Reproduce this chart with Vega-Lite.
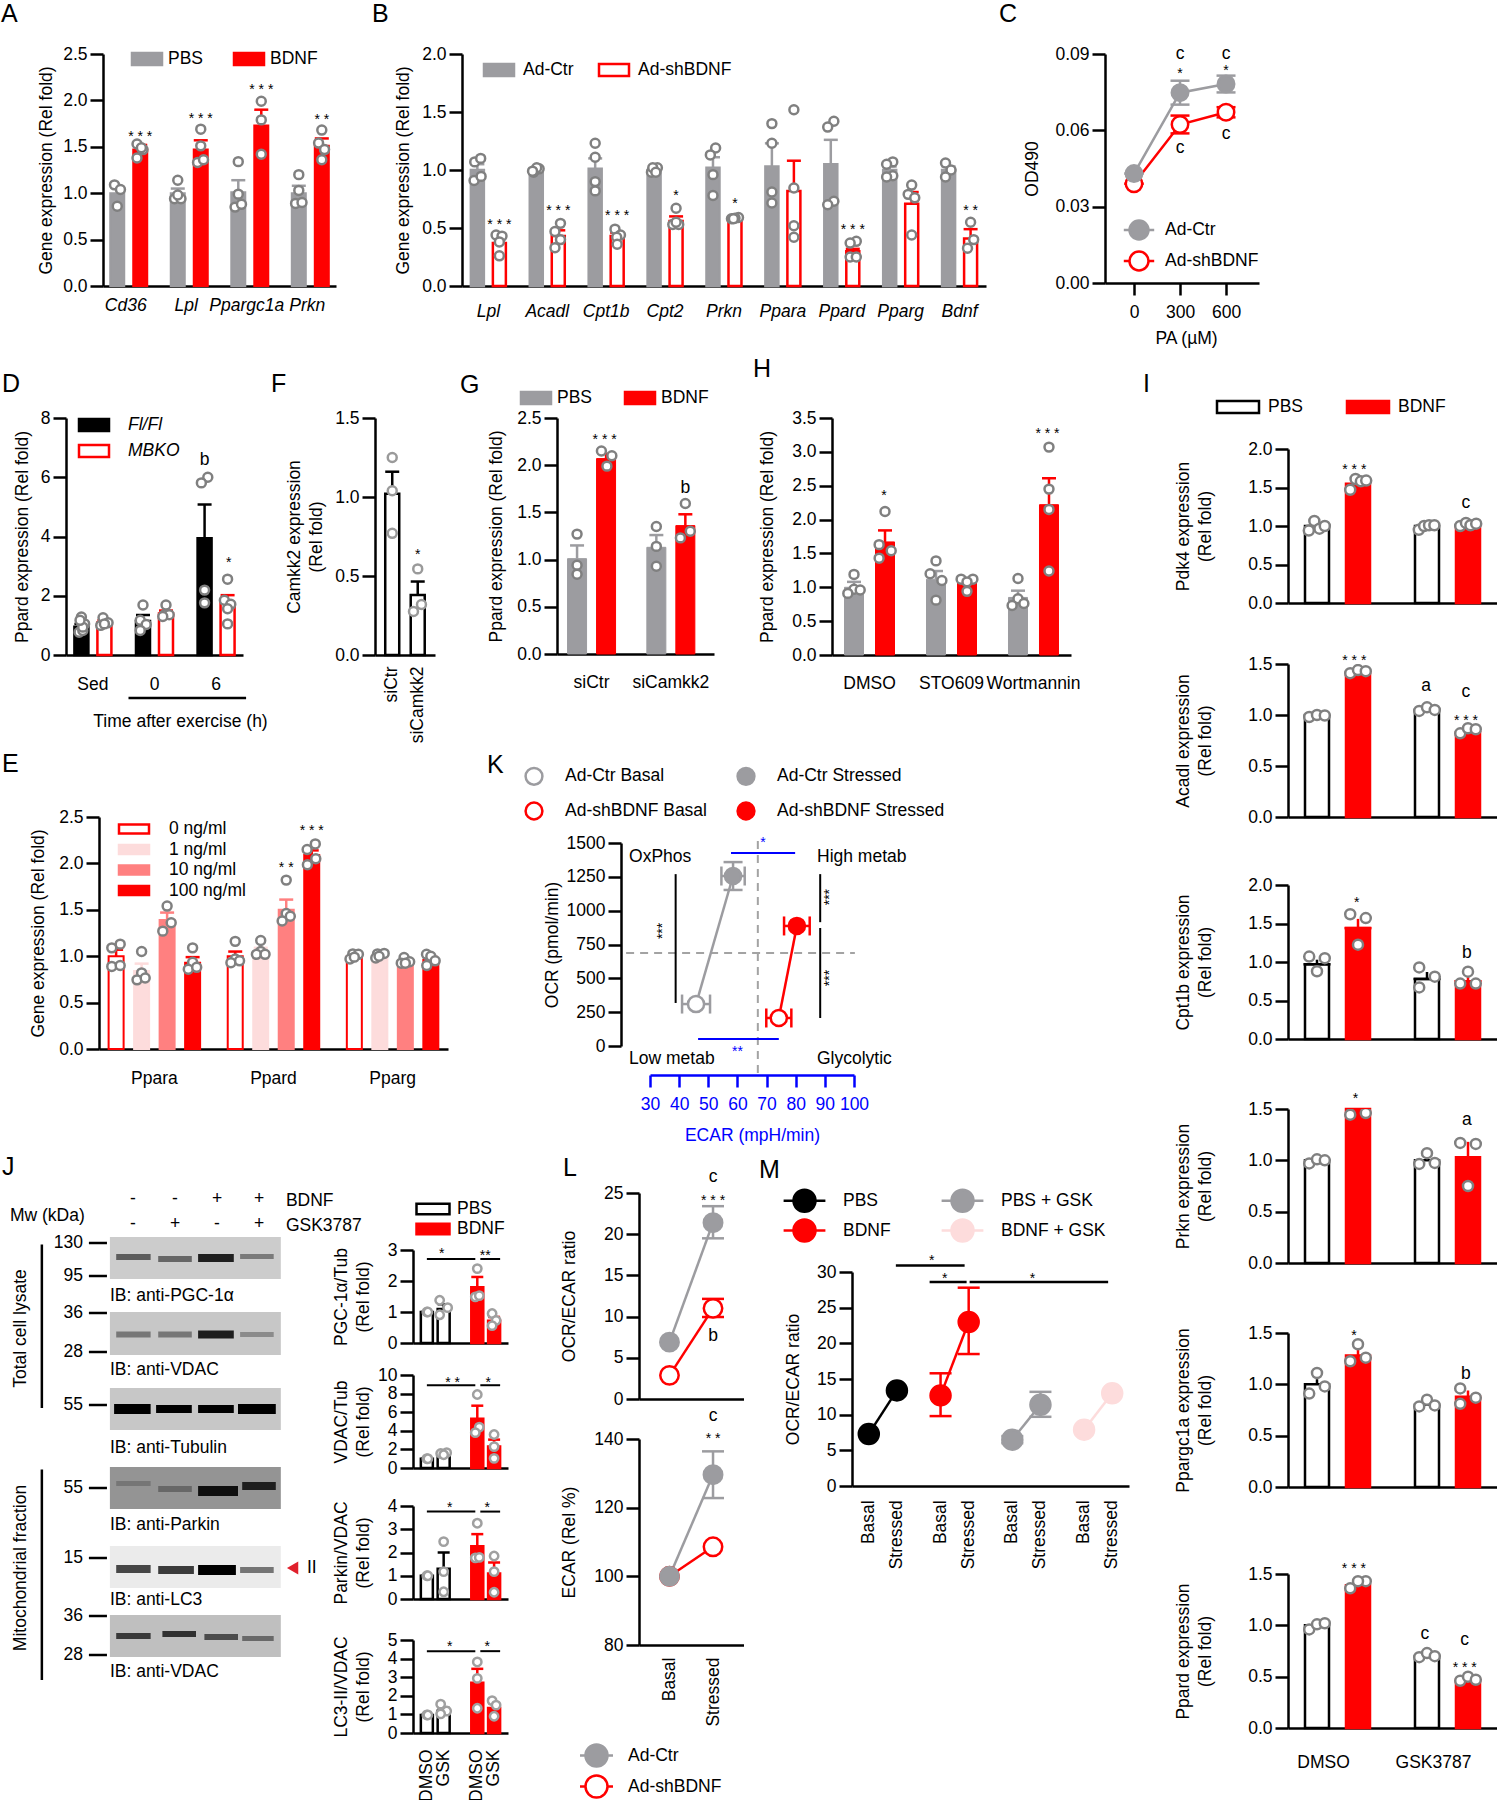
{"$schema":"https://vega.github.io/schema/vega-lite/v6.json","padding":0,"background":"white",
"config":{"font":"Liberation Sans","view":{"stroke":null},"point":{"opacity":1},"text":{"font":"Liberation Sans","fontSize":17.5},
"axis":{"grid":false,"domainColor":"#000","domainWidth":2.5,"tickColor":"#000","tickWidth":2.5,"labelColor":"#000","titleColor":"#000","labelFont":"Liberation Sans","titleFont":"Liberation Sans","labelFontSize":17.5,"titleFontSize":17.5,"titleFontWeight":"normal","titleLineHeight":22},
"axisX":{"ticks":false,"labelAngle":0,"labelOverlap":false,"labelLimit":0,"labelBaseline":"top"},
"axisY":{"tickSize":13,"labelPadding":3,"titleBaseline":"middle","labelOverlap":false},
"legend":{"disable":true,"orient":"none","labelFont":"Liberation Sans","labelFontSize":17.5,"labelColor":"#000","labelLimit":0,"symbolStrokeWidth":2.5,"symbolOpacity":1},
"title":{"font":"Liberation Sans","fontSize":25,"fontWeight":"normal","anchor":"start","frame":"group","offset":0,"color":"#000"}},
"datasets":{
"a_b":[{"g":"Cd36","s":"PBS","off":-0.5,"m":1.0,"hi":1.07},{"g":"Cd36","s":"BDNF","off":0.5,"m":1.47,"hi":1.52},{"g":"Lpl","s":"PBS","off":-0.5,"m":1.0,"hi":1.05},{"g":"Lpl","s":"BDNF","off":0.5,"m":1.47,"hi":1.57},{"g":"Ppargc1a","s":"PBS","off":-0.5,"m":1.01,"hi":1.14},{"g":"Ppargc1a","s":"BDNF","off":0.5,"m":1.73,"hi":1.9},{"g":"Prkn","s":"PBS","off":-0.5,"m":1.0,"hi":1.08},{"g":"Prkn","s":"BDNF","off":0.5,"m":1.51,"hi":1.59}],
"a_d":[{"g":"Cd36","off":-0.62,"v":1.09},{"g":"Cd36","off":-0.36,"v":1.04},{"g":"Cd36","off":-0.5,"v":0.86},{"g":"Cd36","off":0.36,"v":1.53},{"g":"Cd36","off":0.62,"v":1.47},{"g":"Cd36","off":0.55,"v":1.49},{"g":"Cd36","off":0.36,"v":1.38},{"g":"Lpl","off":-0.5,"v":1.14},{"g":"Lpl","off":-0.64,"v":0.94},{"g":"Lpl","off":-0.36,"v":0.94},{"g":"Lpl","off":-0.5,"v":0.98},{"g":"Lpl","off":0.5,"v":1.69},{"g":"Lpl","off":0.5,"v":1.51},{"g":"Lpl","off":0.36,"v":1.33},{"g":"Lpl","off":0.62,"v":1.36},{"g":"Ppargc1a","off":-0.5,"v":1.34},{"g":"Ppargc1a","off":-0.5,"v":0.99},{"g":"Ppargc1a","off":-0.64,"v":0.85},{"g":"Ppargc1a","off":-0.36,"v":0.88},{"g":"Ppargc1a","off":0.5,"v":1.99},{"g":"Ppargc1a","off":0.5,"v":1.79},{"g":"Ppargc1a","off":0.5,"v":1.42},{"g":"Prkn","off":-0.5,"v":1.2},{"g":"Prkn","off":-0.5,"v":1.03},{"g":"Prkn","off":-0.64,"v":0.89},{"g":"Prkn","off":-0.36,"v":0.9},{"g":"Prkn","off":0.5,"v":1.68},{"g":"Prkn","off":0.36,"v":1.54},{"g":"Prkn","off":0.62,"v":1.47},{"g":"Prkn","off":0.5,"v":1.36}],
"a_s":[{"g":"Cd36","off":0.5,"y":1.64,"t":"* * *"},{"g":"Lpl","off":0.5,"y":1.83,"t":"* * *"},{"g":"Ppargc1a","off":0.5,"y":2.14,"t":"* * *"},{"g":"Prkn","off":0.5,"y":1.82,"t":"* *"}],
"b_b":[{"g":"Lpl","s":"Ad-Ctr","off":-0.5,"m":1.0,"hi":1.05},{"g":"Lpl","s":"Ad-shBDNF","off":0.5,"m":0.37,"hi":0.42},{"g":"Acadl","s":"Ad-Ctr","off":-0.5,"m":1.0,"hi":1.01},{"g":"Acadl","s":"Ad-shBDNF","off":0.5,"m":0.43,"hi":0.48},{"g":"Cpt1b","s":"Ad-Ctr","off":-0.5,"m":1.01,"hi":1.1},{"g":"Cpt1b","s":"Ad-shBDNF","off":0.5,"m":0.43,"hi":0.46},{"g":"Cpt2","s":"Ad-Ctr","off":-0.5,"m":1.0,"hi":1.01},{"g":"Cpt2","s":"Ad-shBDNF","off":0.5,"m":0.56,"hi":0.6},{"g":"Prkn","s":"Ad-Ctr","off":-0.5,"m":1.02,"hi":1.11},{"g":"Prkn","s":"Ad-shBDNF","off":0.5,"m":0.58,"hi":0.59},{"g":"Ppara","s":"Ad-Ctr","off":-0.5,"m":1.03,"hi":1.23},{"g":"Ppara","s":"Ad-shBDNF","off":0.5,"m":0.82,"hi":1.08},{"g":"Ppard","s":"Ad-Ctr","off":-0.5,"m":1.05,"hi":1.26},{"g":"Ppard","s":"Ad-shBDNF","off":0.5,"m":0.3,"hi":0.32},{"g":"Pparg","s":"Ad-Ctr","off":-0.5,"m":1.0,"hi":1.03},{"g":"Pparg","s":"Ad-shBDNF","off":0.5,"m":0.71,"hi":0.81},{"g":"Bdnf","s":"Ad-Ctr","off":-0.5,"m":1.0,"hi":1.03},{"g":"Bdnf","s":"Ad-shBDNF","off":0.5,"m":0.41,"hi":0.49}],
"b_d":[{"g":"Lpl","off":-0.65,"v":0.91},{"g":"Lpl","off":-0.33,"v":0.945},{"g":"Lpl","off":-0.62,"v":1.07},{"g":"Lpl","off":-0.35,"v":1.1},{"g":"Lpl","off":0.35,"v":0.44},{"g":"Lpl","off":0.62,"v":0.43},{"g":"Lpl","off":0.5,"v":0.38},{"g":"Lpl","off":0.5,"v":0.26},{"g":"Acadl","off":-0.62,"v":0.98},{"g":"Acadl","off":-0.37,"v":1.01},{"g":"Acadl","off":-0.48,"v":1.02},{"g":"Acadl","off":-0.67,"v":0.99},{"g":"Acadl","off":0.6,"v":0.54},{"g":"Acadl","off":0.35,"v":0.47},{"g":"Acadl","off":0.6,"v":0.4},{"g":"Acadl","off":0.35,"v":0.33},{"g":"Cpt1b","off":-0.5,"v":1.23},{"g":"Cpt1b","off":-0.5,"v":1.11},{"g":"Cpt1b","off":-0.5,"v":0.9},{"g":"Cpt1b","off":-0.5,"v":0.82},{"g":"Cpt1b","off":0.4,"v":0.49},{"g":"Cpt1b","off":0.65,"v":0.44},{"g":"Cpt1b","off":0.48,"v":0.42},{"g":"Cpt1b","off":0.5,"v":0.36},{"g":"Cpt2","off":-0.62,"v":0.98},{"g":"Cpt2","off":-0.35,"v":1.02},{"g":"Cpt2","off":-0.56,"v":1.02},{"g":"Cpt2","off":-0.42,"v":0.98},{"g":"Cpt2","off":0.5,"v":0.67},{"g":"Cpt2","off":0.35,"v":0.53},{"g":"Cpt2","off":0.62,"v":0.53},{"g":"Cpt2","off":0.5,"v":0.55},{"g":"Prkn","off":-0.38,"v":1.19},{"g":"Prkn","off":-0.62,"v":1.13},{"g":"Prkn","off":-0.5,"v":0.96},{"g":"Prkn","off":-0.5,"v":0.78},{"g":"Prkn","off":0.34,"v":0.58},{"g":"Prkn","off":0.66,"v":0.59},{"g":"Prkn","off":0.5,"v":0.585},{"g":"Prkn","off":0.43,"v":0.58},{"g":"Ppara","off":-0.5,"v":1.4},{"g":"Ppara","off":-0.5,"v":1.23},{"g":"Ppara","off":-0.5,"v":0.81},{"g":"Ppara","off":-0.5,"v":0.715},{"g":"Ppara","off":0.5,"v":1.52},{"g":"Ppara","off":0.5,"v":0.845},{"g":"Ppara","off":0.5,"v":0.52},{"g":"Ppara","off":0.5,"v":0.42},{"g":"Ppard","off":-0.36,"v":1.42},{"g":"Ppard","off":-0.64,"v":1.37},{"g":"Ppard","off":-0.36,"v":0.73},{"g":"Ppard","off":-0.64,"v":0.7},{"g":"Ppard","off":0.66,"v":0.385},{"g":"Ppard","off":0.38,"v":0.37},{"g":"Ppard","off":0.38,"v":0.25},{"g":"Ppard","off":0.66,"v":0.25},{"g":"Pparg","off":-0.36,"v":1.07},{"g":"Pparg","off":-0.64,"v":1.05},{"g":"Pparg","off":-0.36,"v":0.95},{"g":"Pparg","off":-0.64,"v":0.94},{"g":"Pparg","off":0.5,"v":0.87},{"g":"Pparg","off":0.34,"v":0.79},{"g":"Pparg","off":0.64,"v":0.76},{"g":"Pparg","off":0.5,"v":0.44},{"g":"Bdnf","off":-0.64,"v":1.06},{"g":"Bdnf","off":-0.39,"v":1.0},{"g":"Bdnf","off":-0.64,"v":0.94},{"g":"Bdnf","off":0.5,"v":0.55},{"g":"Bdnf","off":0.64,"v":0.4},{"g":"Bdnf","off":0.36,"v":0.325}],
"b_s":[{"g":"Lpl","off":0.5,"y":0.55,"t":"* * *"},{"g":"Acadl","off":0.5,"y":0.67,"t":"* * *"},{"g":"Cpt1b","off":0.5,"y":0.63,"t":"* * *"},{"g":"Cpt2","off":0.5,"y":0.8,"t":"*"},{"g":"Prkn","off":0.5,"y":0.73,"t":"*"},{"g":"Ppard","off":0.5,"y":0.51,"t":"* * *"},{"g":"Bdnf","off":0.5,"y":0.67,"t":"* *"}],
"c_p":[{"pa":0,"s":"Ad-shBDNF","m":0.039,"lo":0.039,"hi":0.039},{"pa":300,"s":"Ad-shBDNF","m":0.0623,"lo":0.0588,"hi":0.0658},{"pa":600,"s":"Ad-shBDNF","m":0.0671,"lo":0.0651,"hi":0.0691},{"pa":0,"s":"Ad-Ctr","m":0.043,"lo":0.043,"hi":0.043},{"pa":300,"s":"Ad-Ctr","m":0.0748,"lo":0.0701,"hi":0.0795},{"pa":600,"s":"Ad-Ctr","m":0.0782,"lo":0.0749,"hi":0.0815}],
"c_t":[{"pa":300,"y":0.0901,"t":"c"},{"pa":600,"y":0.0901,"t":"c"},{"pa":300,"y":0.0532,"t":"c"},{"pa":600,"y":0.0584,"t":"c"}],
"c_s":[{"pa":300,"y":0.0832,"t":"*"},{"pa":600,"y":0.0845,"t":"*"}],
"d_b":[{"g":"Sed","s":"Fl/Fl","off":-0.5,"m":0.95,"hi":1.05},{"g":"Sed","s":"MBKO","off":0.5,"m":1.1,"hi":1.17},{"g":"0","s":"Fl/Fl","off":-0.5,"m":1.15,"hi":1.35},{"g":"0","s":"MBKO","off":0.5,"m":1.4,"hi":1.5},{"g":"6","s":"Fl/Fl","off":-0.5,"m":3.94,"hi":5.08},{"g":"6","s":"MBKO","off":0.5,"m":1.75,"hi":2.02}],
"d_d":[{"g":"Sed","off":-0.5,"v":1.28},{"g":"Sed","off":-0.36,"v":1.05},{"g":"Sed","off":-0.6,"v":0.77},{"g":"Sed","off":-0.44,"v":0.83},{"g":"Sed","off":-0.44,"v":0.94},{"g":"Sed","off":-0.56,"v":1.17},{"g":"Sed","off":0.44,"v":1.26},{"g":"Sed","off":0.66,"v":1.09},{"g":"Sed","off":0.34,"v":1.0},{"g":"Sed","off":0.5,"v":1.05},{"g":"0","off":-0.5,"v":1.69},{"g":"0","off":-0.62,"v":1.17},{"g":"0","off":-0.36,"v":1.03},{"g":"0","off":-0.62,"v":0.83},{"g":"0","off":0.5,"v":1.69},{"g":"0","off":0.44,"v":1.36},{"g":"0","off":0.64,"v":1.36},{"g":"0","off":0.36,"v":1.3},{"g":"6","off":-0.36,"v":6.0},{"g":"6","off":-0.64,"v":5.81},{"g":"6","off":-0.5,"v":2.19},{"g":"6","off":-0.5,"v":1.76},{"g":"6","off":0.5,"v":2.56},{"g":"6","off":0.36,"v":1.85},{"g":"6","off":0.64,"v":1.71},{"g":"6","off":0.5,"v":1.56},{"g":"6","off":0.5,"v":1.05}],
"f_b":[{"g":"siCtr","off":0,"m":1.02,"hi":1.16},{"g":"siCamkk2","off":0,"m":0.38,"hi":0.465}],
"f_d":[{"g":"siCtr","off":0,"v":1.25},{"g":"siCtr","off":0,"v":1.04},{"g":"siCtr","off":0,"v":0.77},{"g":"siCamkk2","off":0,"v":0.545},{"g":"siCamkk2","off":0.15,"v":0.32},{"g":"siCamkk2","off":-0.17,"v":0.275}],
"g_b":[{"g":"siCtr","s":"PBS","off":-0.5,"m":1.01,"hi":1.15},{"g":"siCtr","s":"BDNF","off":0.5,"m":2.07,"hi":2.12},{"g":"siCamkk2","s":"PBS","off":-0.5,"m":1.13,"hi":1.26},{"g":"siCamkk2","s":"BDNF","off":0.5,"m":1.36,"hi":1.48}],
"g_d":[{"g":"siCtr","off":-0.5,"v":1.27},{"g":"siCtr","off":-0.5,"v":0.94},{"g":"siCtr","off":-0.5,"v":0.845},{"g":"siCtr","off":0.34,"v":2.15},{"g":"siCtr","off":0.7,"v":2.1},{"g":"siCtr","off":0.53,"v":1.99},{"g":"siCamkk2","off":-0.5,"v":1.35},{"g":"siCamkk2","off":-0.5,"v":1.14},{"g":"siCamkk2","off":-0.5,"v":0.93},{"g":"siCamkk2","off":0.5,"v":1.595},{"g":"siCamkk2","off":0.67,"v":1.3},{"g":"siCamkk2","off":0.33,"v":1.23}],
"h_b":[{"g":"DMSO","s":"PBS","off":-0.5,"m":1.0,"hi":1.08},{"g":"DMSO","s":"BDNF","off":0.5,"m":1.67,"hi":1.84},{"g":"STO609","s":"PBS","off":-0.5,"m":1.12,"hi":1.24},{"g":"STO609","s":"BDNF","off":0.5,"m":1.07,"hi":1.1},{"g":"Wortmannin","s":"PBS","off":-0.5,"m":0.85,"hi":0.95},{"g":"Wortmannin","s":"BDNF","off":0.5,"m":2.22,"hi":2.61}],
"h_d":[{"g":"DMSO","off":-0.5,"v":1.19},{"g":"DMSO","off":-0.5,"v":0.97},{"g":"DMSO","off":-0.7,"v":0.91},{"g":"DMSO","off":-0.3,"v":0.96},{"g":"DMSO","off":0.5,"v":2.12},{"g":"DMSO","off":0.31,"v":1.63},{"g":"DMSO","off":0.7,"v":1.54},{"g":"DMSO","off":0.31,"v":1.43},{"g":"STO609","off":-0.5,"v":1.39},{"g":"STO609","off":-0.69,"v":1.2},{"g":"STO609","off":-0.31,"v":1.1},{"g":"STO609","off":-0.5,"v":0.81},{"g":"STO609","off":0.31,"v":1.12},{"g":"STO609","off":0.69,"v":1.12},{"g":"STO609","off":0.5,"v":1.08},{"g":"STO609","off":0.5,"v":0.94},{"g":"Wortmannin","off":-0.5,"v":1.13},{"g":"Wortmannin","off":-0.5,"v":0.83},{"g":"Wortmannin","off":-0.69,"v":0.73},{"g":"Wortmannin","off":-0.31,"v":0.76},{"g":"Wortmannin","off":0.5,"v":3.07},{"g":"Wortmannin","off":0.5,"v":2.45},{"g":"Wortmannin","off":0.5,"v":2.15},{"g":"Wortmannin","off":0.5,"v":1.24}],
"e_b":[{"g":"Ppara","s":"0 ng/ml","off":-1.5,"m":1.0,"hi":1.07},{"g":"Ppara","s":"1 ng/ml","off":-0.5,"m":0.84,"hi":0.92},{"g":"Ppara","s":"10 ng/ml","off":0.5,"m":1.39,"hi":1.47},{"g":"Ppara","s":"100 ng/ml","off":1.5,"m":0.93,"hi":0.99},{"g":"Ppard","s":"0 ng/ml","off":-1.5,"m":1.0,"hi":1.05},{"g":"Ppard","s":"1 ng/ml","off":-0.5,"m":1.05,"hi":1.09},{"g":"Ppard","s":"10 ng/ml","off":0.5,"m":1.5,"hi":1.61},{"g":"Ppard","s":"100 ng/ml","off":1.5,"m":2.09,"hi":2.14},{"g":"Pparg","s":"0 ng/ml","off":-1.5,"m":1.0,"hi":1.01},{"g":"Pparg","s":"1 ng/ml","off":-0.5,"m":1.01,"hi":1.02},{"g":"Pparg","s":"10 ng/ml","off":0.5,"m":0.93,"hi":0.95},{"g":"Pparg","s":"100 ng/ml","off":1.5,"m":0.96,"hi":0.99}],
"e_d":[{"g":"Ppara","off":-1.67,"v":1.09},{"g":"Ppara","off":-1.34,"v":1.13},{"g":"Ppara","off":-1.67,"v":0.89},{"g":"Ppara","off":-1.34,"v":0.9},{"g":"Ppara","off":-0.5,"v":1.05},{"g":"Ppara","off":-0.5,"v":0.82},{"g":"Ppara","off":-0.68,"v":0.745},{"g":"Ppara","off":-0.36,"v":0.765},{"g":"Ppara","off":0.5,"v":1.54},{"g":"Ppara","off":0.66,"v":1.36},{"g":"Ppara","off":0.33,"v":1.27},{"g":"Ppara","off":1.5,"v":1.09},{"g":"Ppara","off":1.5,"v":0.935},{"g":"Ppara","off":1.33,"v":0.86},{"g":"Ppara","off":1.66,"v":0.88},{"g":"Ppard","off":-1.5,"v":1.16},{"g":"Ppard","off":-1.5,"v":0.97},{"g":"Ppard","off":-1.67,"v":0.93},{"g":"Ppard","off":-1.33,"v":0.95},{"g":"Ppard","off":-0.5,"v":1.17},{"g":"Ppard","off":-0.5,"v":1.05},{"g":"Ppard","off":-0.67,"v":1.02},{"g":"Ppard","off":-0.33,"v":1.02},{"g":"Ppard","off":0.5,"v":1.82},{"g":"Ppard","off":0.5,"v":1.46},{"g":"Ppard","off":0.34,"v":1.38},{"g":"Ppard","off":0.66,"v":1.43},{"g":"Ppard","off":1.64,"v":2.21},{"g":"Ppard","off":1.32,"v":2.15},{"g":"Ppard","off":1.66,"v":2.05},{"g":"Ppard","off":1.33,"v":1.985},{"g":"Pparg","off":-1.56,"v":1.025},{"g":"Pparg","off":-1.34,"v":1.02},{"g":"Pparg","off":-1.67,"v":0.97},{"g":"Pparg","off":-1.5,"v":0.99},{"g":"Pparg","off":-0.59,"v":1.025},{"g":"Pparg","off":-0.33,"v":1.03},{"g":"Pparg","off":-0.66,"v":0.98},{"g":"Pparg","off":-0.53,"v":1.0},{"g":"Pparg","off":0.45,"v":0.985},{"g":"Pparg","off":0.67,"v":0.94},{"g":"Pparg","off":0.34,"v":0.925},{"g":"Pparg","off":0.5,"v":0.925},{"g":"Pparg","off":1.33,"v":1.02},{"g":"Pparg","off":1.5,"v":1.0},{"g":"Pparg","off":1.67,"v":0.95},{"g":"Pparg","off":1.34,"v":0.9}],
"k_p":[{"sample":"Ad-Ctr Basal","group":"Ad-Ctr","ecar":45.8,"ocr":310,"xlo":41,"xhi":50.6},{"sample":"Ad-Ctr Stressed","group":"Ad-Ctr","ecar":58.5,"ocr":1256,"xlo":54.5,"xhi":62.5},{"sample":"Ad-shBDNF Basal","group":"Ad-shBDNF","ecar":74.2,"ocr":207,"xlo":69.9,"xhi":78.5},{"sample":"Ad-shBDNF Stressed","group":"Ad-shBDNF","ecar":80.4,"ocr":887,"xlo":76,"xhi":84.8}],
"k_txt":[{"x":22.8,"y":1393,"t":"OxPhos"},{"x":87.3,"y":1393,"t":"High metab"},{"x":22.8,"y":-96,"t":"Low metab"},{"x":87.3,"y":-96,"t":"Glycolytic"}],
"i1_b":[{"g":"DMSO","s":"PBS","off":-0.5,"m":1.0,"hi":1.0},{"g":"DMSO","s":"BDNF","off":0.5,"m":1.55,"hi":1.55},{"g":"GSK3787","s":"PBS","off":-0.5,"m":1.0,"hi":1.0},{"g":"GSK3787","s":"BDNF","off":0.5,"m":1.0,"hi":1.0}],
"i1_d":[{"g":"DMSO","off":-0.7,"v":0.94},{"g":"DMSO","off":-0.565,"v":1.065},{"g":"DMSO","off":-0.44,"v":0.965},{"g":"DMSO","off":-0.31,"v":1.0},{"g":"DMSO","off":0.31,"v":1.47},{"g":"DMSO","off":0.44,"v":1.61},{"g":"DMSO","off":0.57,"v":1.58},{"g":"DMSO","off":0.7,"v":1.59},{"g":"GSK3787","off":-0.7,"v":0.95},{"g":"GSK3787","off":-0.57,"v":1.0},{"g":"GSK3787","off":-0.45,"v":1.01},{"g":"GSK3787","off":-0.32,"v":1.01},{"g":"GSK3787","off":0.31,"v":1.0},{"g":"GSK3787","off":0.45,"v":1.04},{"g":"GSK3787","off":0.56,"v":1.01},{"g":"GSK3787","off":0.7,"v":1.03}],
"i2_b":[{"g":"DMSO","s":"PBS","off":-0.5,"m":1.0,"hi":1.0},{"g":"DMSO","s":"BDNF","off":0.5,"m":1.42,"hi":1.42},{"g":"GSK3787","s":"PBS","off":-0.5,"m":1.05,"hi":1.05},{"g":"GSK3787","s":"BDNF","off":0.5,"m":0.83,"hi":0.83}],
"i2_d":[{"g":"DMSO","off":-0.69,"v":0.98},{"g":"DMSO","off":-0.5,"v":1.0},{"g":"DMSO","off":-0.31,"v":0.995},{"g":"DMSO","off":0.31,"v":1.41},{"g":"DMSO","off":0.5,"v":1.44},{"g":"DMSO","off":0.69,"v":1.43},{"g":"GSK3787","off":-0.69,"v":1.04},{"g":"GSK3787","off":-0.5,"v":1.075},{"g":"GSK3787","off":-0.31,"v":1.05},{"g":"GSK3787","off":0.31,"v":0.82},{"g":"GSK3787","off":0.5,"v":0.87},{"g":"GSK3787","off":0.69,"v":0.86}],
"i3_b":[{"g":"DMSO","s":"PBS","off":-0.5,"m":0.97,"hi":1.03},{"g":"DMSO","s":"BDNF","off":0.5,"m":1.44,"hi":1.56},{"g":"GSK3787","s":"PBS","off":-0.5,"m":0.78,"hi":0.87},{"g":"GSK3787","s":"BDNF","off":0.5,"m":0.75,"hi":0.83}],
"i3_d":[{"g":"DMSO","off":-0.69,"v":1.07},{"g":"DMSO","off":-0.31,"v":1.05},{"g":"DMSO","off":-0.5,"v":0.88},{"g":"DMSO","off":0.31,"v":1.62},{"g":"DMSO","off":0.69,"v":1.57},{"g":"DMSO","off":0.5,"v":1.225},{"g":"GSK3787","off":-0.69,"v":0.93},{"g":"GSK3787","off":-0.31,"v":0.81},{"g":"GSK3787","off":-0.69,"v":0.67},{"g":"GSK3787","off":0.5,"v":0.875},{"g":"GSK3787","off":0.31,"v":0.72},{"g":"GSK3787","off":0.69,"v":0.72}],
"i4_b":[{"g":"DMSO","s":"PBS","off":-0.5,"m":1.0,"hi":1.0},{"g":"DMSO","s":"BDNF","off":0.5,"m":1.5,"hi":1.5},{"g":"GSK3787","s":"PBS","off":-0.5,"m":1.0,"hi":1.0},{"g":"GSK3787","s":"BDNF","off":0.5,"m":1.03,"hi":1.18}],
"i4_d":[{"g":"DMSO","off":-0.69,"v":0.97},{"g":"DMSO","off":-0.5,"v":1.01},{"g":"DMSO","off":-0.31,"v":1.0},{"g":"DMSO","off":0.31,"v":1.445},{"g":"DMSO","off":0.69,"v":1.46},{"g":"GSK3787","off":-0.5,"v":1.07},{"g":"GSK3787","off":-0.69,"v":0.965},{"g":"GSK3787","off":-0.31,"v":0.975},{"g":"GSK3787","off":0.31,"v":1.17},{"g":"GSK3787","off":0.69,"v":1.16},{"g":"GSK3787","off":0.5,"v":0.75}],
"i5_b":[{"g":"DMSO","s":"PBS","off":-0.5,"m":1.0,"hi":1.05},{"g":"DMSO","s":"BDNF","off":0.5,"m":1.28,"hi":1.34},{"g":"GSK3787","s":"PBS","off":-0.5,"m":0.8,"hi":0.8},{"g":"GSK3787","s":"BDNF","off":0.5,"m":0.88,"hi":0.94}],
"i5_d":[{"g":"DMSO","off":-0.5,"v":1.11},{"g":"DMSO","off":-0.31,"v":0.98},{"g":"DMSO","off":-0.69,"v":0.91},{"g":"DMSO","off":0.5,"v":1.39},{"g":"DMSO","off":0.69,"v":1.26},{"g":"DMSO","off":0.31,"v":1.225},{"g":"GSK3787","off":-0.5,"v":0.85},{"g":"GSK3787","off":-0.69,"v":0.785},{"g":"GSK3787","off":-0.31,"v":0.795},{"g":"GSK3787","off":0.31,"v":0.96},{"g":"GSK3787","off":0.69,"v":0.87},{"g":"GSK3787","off":0.31,"v":0.81}],
"i6_b":[{"g":"DMSO","s":"PBS","off":-0.5,"m":1.0,"hi":1.0},{"g":"DMSO","s":"BDNF","off":0.5,"m":1.39,"hi":1.42},{"g":"GSK3787","s":"PBS","off":-0.5,"m":0.7,"hi":0.7},{"g":"GSK3787","s":"BDNF","off":0.5,"m":0.47,"hi":0.47}],
"i6_d":[{"g":"DMSO","off":-0.69,"v":0.96},{"g":"DMSO","off":-0.5,"v":1.01},{"g":"DMSO","off":-0.31,"v":1.02},{"g":"DMSO","off":0.31,"v":1.36},{"g":"DMSO","off":0.69,"v":1.43},{"g":"DMSO","off":0.5,"v":1.43},{"g":"GSK3787","off":-0.69,"v":0.69},{"g":"GSK3787","off":-0.5,"v":0.73},{"g":"GSK3787","off":-0.31,"v":0.7},{"g":"GSK3787","off":0.31,"v":0.46},{"g":"GSK3787","off":0.5,"v":0.5},{"g":"GSK3787","off":0.69,"v":0.47}],
"j1_b":[{"c":"PBS DMSO","s":"PBS","off":0,"m":1.0,"hi":1.0},{"c":"PBS GSK","s":"PBS","off":0,"m":1.1,"hi":1.25},{"c":"BDNF DMSO","s":"BDNF","off":0,"m":1.8,"hi":2.13},{"c":"BDNF GSK","s":"BDNF","off":0,"m":0.72,"hi":0.84}],
"j1_d":[{"c":"PBS DMSO","off":0,"v":1.0},{"c":"PBS DMSO","off":0.1,"v":1.0},{"c":"PBS GSK","off":-0.4,"v":1.38},{"c":"PBS GSK","off":0.4,"v":1.14},{"c":"PBS GSK","off":-0.4,"v":0.91},{"c":"BDNF DMSO","off":0,"v":2.4},{"c":"BDNF DMSO","off":-0.2,"v":1.49},{"c":"BDNF DMSO","off":0.2,"v":1.53},{"c":"BDNF GSK","off":-0.2,"v":0.95},{"c":"BDNF GSK","off":0.2,"v":0.73},{"c":"BDNF GSK","off":-0.2,"v":0.56}],
"j1_r":[{"c":"PBS DMSO","c2":"BDNF DMSO","y":2.71}],"j1_q":[{"c":"BDNF DMSO","c2":"BDNF GSK","y":2.71}],"j1_s":[{"c":"PBS GSK","off":-0.2,"y":2.96,"t":"*"},{"c":"BDNF DMSO","off":0.8,"y":2.9,"t":"**"}],
"j2_b":[{"c":"PBS DMSO","s":"PBS","off":0,"m":1.0,"hi":1.0},{"c":"PBS GSK","s":"PBS","off":0,"m":1.5,"hi":1.6},{"c":"BDNF DMSO","s":"BDNF","off":0,"m":5.3,"hi":6.7},{"c":"BDNF GSK","s":"BDNF","off":0,"m":2.3,"hi":3.05}],
"j2_d":[{"c":"PBS DMSO","off":0,"v":1.0},{"c":"PBS DMSO","off":0.1,"v":1.0},{"c":"PBS GSK","off":-0.3,"v":1.56},{"c":"PBS GSK","off":0.3,"v":1.65},{"c":"PBS GSK","off":0,"v":1.43},{"c":"BDNF DMSO","off":0,"v":7.9},{"c":"BDNF DMSO","off":0.2,"v":4.4},{"c":"BDNF DMSO","off":-0.2,"v":3.8},{"c":"BDNF GSK","off":0,"v":3.6},{"c":"BDNF GSK","off":0,"v":2.3},{"c":"BDNF GSK","off":0,"v":1.04}],
"j2_r":[{"c":"PBS DMSO","c2":"BDNF DMSO","y":8.9}],"j2_q":[{"c":"BDNF DMSO","c2":"BDNF GSK","y":8.9}],"j2_s":[{"c":"PBS GSK","off":0.9,"y":9.5,"t":"* *"},{"c":"BDNF DMSO","off":1.1,"y":9.5,"t":"*"}],
"j3_b":[{"c":"PBS DMSO","s":"PBS","off":0,"m":1.0,"hi":1.0},{"c":"PBS GSK","s":"PBS","off":0,"m":1.3,"hi":2.0},{"c":"BDNF DMSO","s":"BDNF","off":0,"m":2.27,"hi":2.79},{"c":"BDNF GSK","s":"BDNF","off":0,"m":1.1,"hi":1.57}],
"j3_d":[{"c":"PBS DMSO","off":0,"v":1.0},{"c":"PBS DMSO","off":0.1,"v":1.0},{"c":"PBS GSK","off":0,"v":2.47},{"c":"PBS GSK","off":0,"v":1.18},{"c":"PBS GSK","off":0,"v":0.31},{"c":"BDNF DMSO","off":0,"v":3.26},{"c":"BDNF DMSO","off":-0.2,"v":1.77},{"c":"BDNF DMSO","off":0.2,"v":1.79},{"c":"BDNF GSK","off":0,"v":1.85},{"c":"BDNF GSK","off":0,"v":1.18},{"c":"BDNF GSK","off":0,"v":0.29}],
"j3_r":[{"c":"PBS DMSO","c2":"BDNF DMSO","y":3.76}],"j3_q":[{"c":"BDNF DMSO","c2":"BDNF GSK","y":3.76}],"j3_s":[{"c":"PBS GSK","off":0.6,"y":4.05,"t":"*"},{"c":"BDNF DMSO","off":1.0,"y":4.05,"t":"*"}],
"j4_b":[{"c":"PBS DMSO","s":"PBS","off":0,"m":0.97,"hi":0.97},{"c":"PBS GSK","s":"PBS","off":0,"m":1.2,"hi":1.35},{"c":"BDNF DMSO","s":"BDNF","off":0,"m":2.7,"hi":3.45},{"c":"BDNF GSK","s":"BDNF","off":0,"m":1.35,"hi":1.6}],
"j4_d":[{"c":"PBS DMSO","off":0,"v":0.97},{"c":"PBS DMSO","off":0.1,"v":0.97},{"c":"PBS GSK","off":-0.3,"v":1.55},{"c":"PBS GSK","off":0.3,"v":1.18},{"c":"PBS GSK","off":-0.3,"v":1.03},{"c":"BDNF DMSO","off":0,"v":3.82},{"c":"BDNF DMSO","off":0,"v":2.94},{"c":"BDNF DMSO","off":0,"v":1.33},{"c":"BDNF GSK","off":-0.2,"v":1.74},{"c":"BDNF GSK","off":0.2,"v":1.5},{"c":"BDNF GSK","off":0,"v":0.9}],
"j4_r":[{"c":"PBS DMSO","c2":"BDNF DMSO","y":4.4}],"j4_q":[{"c":"BDNF DMSO","c2":"BDNF GSK","y":4.4}],"j4_s":[{"c":"PBS GSK","off":0.6,"y":4.78,"t":"*"},{"c":"BDNF DMSO","off":1.0,"y":4.78,"t":"*"}],
"jb_r":[{"x":0.45,"x2":4.52,"y":11.2,"y2":19.6,"o":0.2},{"x":0.45,"x2":4.52,"y":26.2,"y2":34.8,"o":0.22},{"x":0.45,"x2":4.52,"y":41.4,"y2":49.8,"o":0.22},{"x":0.45,"x2":4.52,"y":57.2,"y2":65.6,"o":0.42},{"x":0.45,"x2":4.52,"y":73,"y2":81.4,"o":0.08},{"x":0.45,"x2":4.52,"y":86.8,"y2":95.2,"o":0.25},
{"x":0.6,"x2":1.42,"y":14.6,"y2":15.8,"o":0.55},{"x":1.6,"x2":2.4,"y":15,"y2":16.2,"o":0.5},{"x":2.55,"x2":3.4,"y":14.6,"y2":16.2,"o":0.85},{"x":3.55,"x2":4.35,"y":14.6,"y2":15.6,"o":0.4},
{"x":0.6,"x2":1.42,"y":30.1,"y2":31.3,"o":0.4},{"x":1.6,"x2":2.4,"y":30.1,"y2":31.3,"o":0.4},{"x":2.55,"x2":3.4,"y":29.9,"y2":31.5,"o":0.85},{"x":3.55,"x2":4.35,"y":30.2,"y2":31.2,"o":0.3},
{"x":0.55,"x2":1.42,"y":44.6,"y2":46.6,"o":1},{"x":1.55,"x2":2.4,"y":44.8,"y2":46.4,"o":1},{"x":2.55,"x2":3.4,"y":44.8,"y2":46.4,"o":1},{"x":3.5,"x2":4.4,"y":44.6,"y2":46.6,"o":1},
{"x":0.6,"x2":1.42,"y":60,"y2":61,"o":0.2},{"x":1.6,"x2":2.4,"y":61,"y2":62.2,"o":0.3},{"x":2.55,"x2":3.5,"y":61,"y2":63,"o":0.9},{"x":3.6,"x2":4.4,"y":60.2,"y2":61.8,"o":0.8},
{"x":0.6,"x2":1.42,"y":76.8,"y2":78.4,"o":0.7},{"x":1.6,"x2":2.45,"y":77,"y2":78.6,"o":0.75},{"x":2.55,"x2":3.45,"y":76.8,"y2":78.8,"o":1},{"x":3.55,"x2":4.35,"y":77.2,"y2":78.4,"o":0.5},
{"x":0.6,"x2":1.42,"y":90.4,"y2":91.6,"o":0.7},{"x":1.7,"x2":2.5,"y":90,"y2":91.2,"o":0.75},{"x":2.7,"x2":3.5,"y":90.6,"y2":91.8,"o":0.6},{"x":3.6,"x2":4.35,"y":91,"y2":92,"o":0.45}],
"jb_l":[{"x":-0.05,"x2":0.38,"y":12.4,"y2":12.4},{"x":-0.05,"x2":0.38,"y":19,"y2":19},{"x":-0.05,"x2":0.38,"y":26.4,"y2":26.4},{"x":-0.05,"x2":0.38,"y":34.2,"y2":34.2},{"x":-0.05,"x2":0.38,"y":44.8,"y2":44.8},{"x":-0.05,"x2":0.38,"y":61.4,"y2":61.4},{"x":-0.05,"x2":0.38,"y":75.4,"y2":75.4},{"x":-0.05,"x2":0.38,"y":87,"y2":87},{"x":-0.05,"x2":0.38,"y":94.8,"y2":94.8},{"x":-1.17,"x2":-1.17,"y":12.7,"y2":45.4},{"x":-1.17,"x2":-1.17,"y":57.7,"y2":99.8}],
"jb_t":[{"x":0.45,"y":23,"t":"IB: anti-PGC-1α"},{"x":0.45,"y":37.8,"t":"IB: anti-VDAC"},{"x":0.45,"y":53.4,"t":"IB: anti-Tubulin"},{"x":0.45,"y":68.8,"t":"IB: anti-Parkin"},{"x":0.45,"y":83.8,"t":"IB: anti-LC3"},{"x":0.45,"y":98.2,"t":"IB: anti-VDAC"},{"x":4.64,"y":4,"t":"BDNF"},{"x":4.64,"y":9,"t":"GSK3787"},{"x":-1.93,"y":7,"t":"Mw (kDa)"},{"x":5.14,"y":77.4,"t":"II"}],
"jb_k":[{"x":-0.19,"y":12.4,"t":"130"},{"x":-0.19,"y":19,"t":"95"},{"x":-0.19,"y":26.4,"t":"36"},{"x":-0.19,"y":34.2,"t":"28"},{"x":-0.19,"y":44.8,"t":"55"},{"x":-0.19,"y":61.4,"t":"55"},{"x":-0.19,"y":75.4,"t":"15"},{"x":-0.19,"y":87,"t":"36"},{"x":-0.19,"y":94.8,"t":"28"}],
"jb_c":[{"x":1,"y":3.6,"t":"-"},{"x":2,"y":3.6,"t":"-"},{"x":3,"y":3.6,"t":"+"},{"x":4,"y":3.6,"t":"+"},{"x":1,"y":8.6,"t":"-"},{"x":2,"y":8.6,"t":"+"},{"x":3,"y":8.6,"t":"-"},{"x":4,"y":8.6,"t":"+"}],
"jb_v":[{"x":-1.67,"y":29.5,"t":"Total cell lysate"},{"x":-1.67,"y":77.4,"t":"Mitochondrial fraction"}],
"l1_p":[{"st":"Basal","s":"Ad-shBDNF","m":2.87,"lo":2.87,"hi":2.87},{"st":"Stressed","s":"Ad-shBDNF","m":11.0,"lo":9.95,"hi":12.15},{"st":"Basal","s":"Ad-Ctr","m":6.9,"lo":6.9,"hi":6.9},{"st":"Stressed","s":"Ad-Ctr","m":21.4,"lo":19.5,"hi":23.4}],
"l2_p":[{"st":"Basal","s":"Ad-shBDNF","m":100,"lo":100,"hi":100},{"st":"Stressed","s":"Ad-shBDNF","m":108.6,"lo":108.6,"hi":108.6},{"st":"Basal","s":"Ad-Ctr","m":100,"lo":100,"hi":100},{"st":"Stressed","s":"Ad-Ctr","m":129.6,"lo":122.8,"hi":136.4}],
"m_p":[{"g":"PBS","st":"Basal","m":7.3,"lo":7.3,"hi":7.3},{"g":"PBS","st":"Stressed","m":13.4,"lo":13.4,"hi":13.4},{"g":"BDNF","st":"Basal","m":12.7,"lo":9.8,"hi":15.8},{"g":"BDNF","st":"Stressed","m":23,"lo":18.5,"hi":27.8},{"g":"PBS + GSK","st":"Basal","m":6.5,"lo":6,"hi":7},{"g":"PBS + GSK","st":"Stressed","m":11.4,"lo":9.7,"hi":13.2},{"g":"BDNF + GSK","st":"Basal","m":7.9,"lo":7.9,"hi":7.9},{"g":"BDNF + GSK","st":"Stressed","m":13,"lo":13,"hi":13}]
},
"hconcat":[
{"vconcat":[
{"width":1,"height":54,"data":{"values":[]},"mark":"point"},
{"hconcat":[
{"width":103,"height":1,"data":{"values":[]},"mark":"point"},
{"width":233,"height":232,"title":{"text":"A","dx":-102,"dy":-14},
"encoding":{"x":{"field":"g","type":"nominal","title":null,"scale":{"domain":["Cd36","Lpl","Ppargc1a","Prkn"],"paddingInner":0.3,"paddingOuter":0.075},"axis":{"labelFontStyle":"italic","labelPadding":10,"labelOffset":-3}},"xOffset":{"field":"off","type":"quantitative","scale":{"domain":[-1,1],"range":[-1.8,44.2]}}},
"layer":[
{"data":{"name":"a_b"},"mark":{"type":"bar","width":14,"strokeWidth":2},"encoding":{"y":{"field":"m","type":"quantitative","stack":null,"scale":{"domain":[0,2.5],"nice":false},"axis":{"tickCount":50,"labelOverlap":false,"title":"Gene expression (Rel fold)","titleX":-57,"values":[0,0.5,1,1.5,2,2.5],"format":".1f"}},"fill":{"field":"s","type":"nominal","title":null,"scale":{"domain":["PBS","BDNF"],"range":["#9c9ca0","#ff0000"]},"legend":{"disable":false,"orient":"none","legendX":35,"legendY":-4,"direction":"horizontal","columns":2,"columnPadding":25,"labelOffset":12,"symbolType":"M-2,-.8H2V.8H-2Z","symbolSize":225}},"stroke":{"field":"s","type":"nominal","title":null,"scale":{"domain":["PBS","BDNF"],"range":["#9c9ca0","#ff0000"]},"legend":{"disable":false}}}},
{"data":{"name":"a_b"},"mark":{"type":"rule","strokeWidth":2.5},"encoding":{"y":{"field":"m","type":"quantitative"},"y2":{"field":"hi"},"stroke":{"field":"s","type":"nominal","title":null}}},
{"data":{"name":"a_b"},"mark":{"type":"point","shape":"stroke","size":196,"strokeWidth":2.5},"encoding":{"y":{"field":"hi","type":"quantitative"},"stroke":{"field":"s","type":"nominal","title":null}}},
{"data":{"name":"a_d"},"mark":{"type":"point","filled":true,"fill":"#fff","stroke":"#808080","strokeWidth":2.5,"size":80},"encoding":{"y":{"field":"v","type":"quantitative"}}},
{"data":{"name":"a_s"},"mark":{"type":"text","fontSize":14,"dy":3},"encoding":{"y":{"field":"y","type":"quantitative"},"text":{"field":"t"}}}
]},
{"width":126,"height":1,"data":{"values":[]},"mark":"point"},
{"width":524,"height":232,"title":{"text":"B","dx":-90,"dy":-14},
"encoding":{"x":{"field":"g","type":"nominal","title":null,"scale":{"domain":["Lpl","Acadl","Cpt1b","Cpt2","Prkn","Ppara","Ppard","Pparg","Bdnf"],"paddingInner":0.3,"paddingOuter":0.098},"axis":{"labelFontStyle":"italic","labelPadding":16}},"xOffset":{"field":"off","type":"quantitative","scale":{"domain":[-1,1],"range":[-1.4,42.6]}}},
"layer":[
{"data":{"name":"b_b"},"mark":{"type":"bar","width":13,"strokeWidth":2.5},"encoding":{"y":{"field":"m","type":"quantitative","stack":null,"scale":{"domain":[0,2],"nice":false},"axis":{"tickCount":50,"labelOverlap":false,"title":"Gene expression (Rel fold)","titleX":-59,"values":[0,0.5,1,1.5,2],"format":".1f"}},"fill":{"field":"s","type":"nominal","title":null,"scale":{"domain":["Ad-Ctr","Ad-shBDNF"],"range":["#9c9ca0","#ffffff"]},"legend":{"disable":false,"orient":"none","legendX":28,"legendY":7,"direction":"horizontal","columns":2,"columnPadding":20,"labelOffset":15,"symbolType":"M-2,-.8H2V.8H-2Z","symbolSize":225}},"stroke":{"field":"s","type":"nominal","title":null,"scale":{"domain":["Ad-Ctr","Ad-shBDNF"],"range":["#9c9ca0","#ff0000"]},"legend":{"disable":false}}}},
{"data":{"name":"b_b"},"mark":{"type":"rule","strokeWidth":2.5},"encoding":{"y":{"field":"m","type":"quantitative"},"y2":{"field":"hi"},"stroke":{"field":"s","type":"nominal","title":null}}},
{"data":{"name":"b_b"},"mark":{"type":"point","shape":"stroke","size":196,"strokeWidth":2.5},"encoding":{"y":{"field":"hi","type":"quantitative"},"stroke":{"field":"s","type":"nominal","title":null}}},
{"data":{"name":"b_d"},"mark":{"type":"point","filled":true,"fill":"#fff","stroke":"#808080","strokeWidth":2.5,"size":80},"encoding":{"y":{"field":"v","type":"quantitative"}}},
{"data":{"name":"b_s"},"mark":{"type":"text","fontSize":14,"dy":3},"encoding":{"y":{"field":"y","type":"quantitative"},"text":{"field":"t"}}}
]},
{"width":119,"height":1,"data":{"values":[]},"mark":"point"},
{"width":154,"height":229,"title":{"text":"C","dx":-106,"dy":-14},"data":{"name":"c_p"},
"layer":[
{"mark":{"type":"line","strokeWidth":2.5},"encoding":{"x":{"field":"pa","type":"quantitative","title":"PA (µM)","scale":{"domain":[-189,815],"nice":false,"zero":false},"axis":{"tickCount":50,"labelOverlap":false,"labelFlush":false,"format":"d","ticks":true,"tickSize":12,"values":[0,300,600],"labelPadding":8,"titlePadding":9,"titleX":81}},"y":{"field":"m","type":"quantitative","scale":{"domain":[0,0.09],"nice":false},"axis":{"tickCount":50,"labelOverlap":false,"title":"OD490","titleX":-73,"values":[0,0.03,0.06,0.09],"format":".2f"}},"stroke":{"field":"s","type":"nominal","title":null,"scale":{"domain":["Ad-Ctr","Ad-shBDNF"],"range":["#9c9ca0","#ff0000"]}}}},
{"mark":{"type":"rule","strokeWidth":2.5},"encoding":{"x":{"field":"pa","type":"quantitative"},"y":{"field":"lo","type":"quantitative"},"y2":{"field":"hi"},"stroke":{"field":"s","type":"nominal","title":null}}},
{"mark":{"type":"point","shape":"stroke","size":361,"strokeWidth":2.5},"encoding":{"x":{"field":"pa","type":"quantitative"},"y":{"field":"hi","type":"quantitative"},"stroke":{"field":"s","type":"nominal","title":null}}},
{"mark":{"type":"point","shape":"stroke","size":361,"strokeWidth":2.5},"encoding":{"x":{"field":"pa","type":"quantitative"},"y":{"field":"lo","type":"quantitative"},"stroke":{"field":"s","type":"nominal","title":null}}},
{"mark":{"type":"point","filled":true,"size":270,"strokeWidth":2.5},"encoding":{"x":{"field":"pa","type":"quantitative"},"y":{"field":"m","type":"quantitative"},"fill":{"field":"s","type":"nominal","title":null,"scale":{"domain":["Ad-Ctr","Ad-shBDNF"],"range":["#9c9ca0","#ffffff"]},"legend":{"disable":false,"orient":"none","legendX":23,"legendY":165,"direction":"vertical","rowPadding":1,"labelOffset":15,"symbolType":"M-1.6,0H-1M1,0H1.6M1,0A1,1 0 1 1-1,0A1,1 0 1 1 1,0Z","symbolSize":361}},"stroke":{"field":"s","type":"nominal","title":null,"legend":{"disable":false}}}},
{"data":{"name":"c_t"},"mark":{"type":"text"},"encoding":{"x":{"field":"pa","type":"quantitative"},"y":{"field":"y","type":"quantitative"},"text":{"field":"t"}}},
{"data":{"name":"c_s"},"mark":{"type":"text","fontSize":14,"dy":3},"encoding":{"x":{"field":"pa","type":"quantitative"},"y":{"field":"y","type":"quantitative"},"text":{"field":"t"}}}
]}
],"spacing":0,"bounds":"flush","resolve":{"scale":{"fill":"independent","stroke":"independent","xOffset":"independent","opacity":"independent"}}},
{"width":1,"height":364,"data":{"values":[]},"mark":"point"},
{"hconcat":[
{"width":66,"height":1,"data":{"values":[]},"mark":"point"},
{"width":177,"height":237,"title":{"text":"D","dx":-64,"dy":-8},
"encoding":{"x":{"field":"g","type":"nominal","title":"Time after exercise (h)","scale":{"domain":["Sed","0","6"],"paddingInner":0.3,"paddingOuter":0.087},"axis":{"labelPadding":20,"titlePadding":20,"titleX":114}},"xOffset":{"field":"off","type":"quantitative","scale":{"domain":[-1,1],"range":[-1.45,44.55]}}},
"layer":[
{"data":{"name":"d_b"},"mark":{"type":"bar","width":14,"strokeWidth":2.5},"encoding":{"y":{"field":"m","type":"quantitative","stack":null,"scale":{"domain":[0,8],"nice":false},"axis":{"tickCount":50,"labelOverlap":false,"format":"d","title":"Ppard expression (Rel fold)","titleX":-44,"values":[0,2,4,6,8]}},"fill":{"field":"s","type":"nominal","title":null,"scale":{"domain":["Fl/Fl","MBKO"],"range":["#000000","#ffffff"]},"legend":{"disable":false,"orient":"none","legendX":19,"legendY":-2,"direction":"vertical","rowPadding":4,"labelOffset":25,"labelFontStyle":"italic","symbolType":"M-2,-.8H2V.8H-2Z","symbolSize":225}},"stroke":{"field":"s","type":"nominal","title":null,"scale":{"domain":["Fl/Fl","MBKO"],"range":["#000000","#ff0000"]},"legend":{"disable":false}}}},
{"data":{"name":"d_b"},"mark":{"type":"rule","strokeWidth":2.5},"encoding":{"y":{"field":"m","type":"quantitative"},"y2":{"field":"hi"},"stroke":{"field":"s","type":"nominal","title":null}}},
{"data":{"name":"d_b"},"mark":{"type":"point","shape":"stroke","size":196,"strokeWidth":2.5},"encoding":{"y":{"field":"hi","type":"quantitative"},"stroke":{"field":"s","type":"nominal","title":null}}},
{"data":{"name":"d_d"},"mark":{"type":"point","filled":true,"fill":"#fff","stroke":"#808080","strokeWidth":2.5,"size":80},"encoding":{"y":{"field":"v","type":"quantitative"}}},
{"data":{"values":[{"g":"6","off":-0.5,"y":6.57,"t":"b"}]},"mark":{"type":"text"},"encoding":{"y":{"field":"y","type":"quantitative"},"text":{"field":"t"}}},
{"data":{"values":[{"g":"6","off":0.55,"y":3.2,"t":"*"}]},"mark":{"type":"text","fontSize":14,"dy":3},"encoding":{"y":{"field":"y","type":"quantitative"},"text":{"field":"t"}}},
{"data":{"values":[{"a":"0","b":"6","y":-1.45}]},"mark":{"type":"rule","stroke":"#000","strokeWidth":2.5,"xOffset":-26,"x2Offset":30},"encoding":{"xOffset":null,"x":{"field":"a"},"x2":{"field":"b"},"y":{"field":"y","type":"quantitative"}}}
]},
{"width":132,"height":1,"data":{"values":[]},"mark":"point"},
{"width":60,"height":237,"title":{"text":"F","dx":-104,"dy":-8},
"encoding":{"x":{"field":"g","type":"nominal","title":null,"scale":{"domain":["siCtr","siCamkk2"],"paddingInner":0.3,"paddingOuter":0.327},"axis":{"labelAngle":270,"labelBaseline":"middle","labelPadding":11}},"xOffset":{"field":"off","type":"quantitative","scale":{"domain":[-1,1],"range":[-16.1,33.9]}}},
"layer":[
{"data":{"name":"f_b"},"mark":{"type":"bar","width":14,"fill":"#fff","stroke":"#000","strokeWidth":2.5},"encoding":{"y":{"field":"m","type":"quantitative","stack":null,"scale":{"domain":[0,1.5],"nice":false},"axis":{"tickCount":50,"labelOverlap":false,"title":["Camkk2 expression","(Rel fold)"],"titleX":-81,"values":[0,0.5,1,1.5],"format":".1f"}}}},
{"data":{"name":"f_b"},"mark":{"type":"rule","stroke":"#000","strokeWidth":2.5},"encoding":{"y":{"field":"m","type":"quantitative"},"y2":{"field":"hi"}}},
{"data":{"name":"f_b"},"mark":{"type":"point","shape":"stroke","stroke":"#000","size":196,"strokeWidth":2.5},"encoding":{"y":{"field":"hi","type":"quantitative"}}},
{"data":{"name":"f_d"},"mark":{"type":"point","filled":true,"fill":"#fff","stroke":"#9a9a9a","strokeWidth":2.5,"size":80},"encoding":{"y":{"field":"v","type":"quantitative"}}},
{"data":{"values":[{"g":"siCamkk2","off":0,"y":0.65,"t":"*"}]},"mark":{"type":"text","fontSize":14,"dy":3},"encoding":{"y":{"field":"y","type":"quantitative"},"text":{"field":"t"}}}
]},
{"width":122,"height":1,"data":{"values":[]},"mark":"point"},
{"width":157,"height":236,"title":{"text":"G","dx":-97,"dy":13},
"encoding":{"x":{"field":"g","type":"nominal","title":null,"scale":{"domain":["siCtr","siCamkk2"],"paddingInner":0.2,"paddingOuter":0.09,"align":0.2},"axis":{"labelPadding":19}},"xOffset":{"field":"off","type":"quantitative","scale":{"domain":[-1,1],"range":[2.7,60.7]}}},
"layer":[
{"data":{"name":"g_b"},"mark":{"type":"bar","width":19,"strokeWidth":1},"encoding":{"y":{"field":"m","type":"quantitative","stack":null,"scale":{"domain":[0,2.5],"nice":false},"axis":{"tickCount":50,"labelOverlap":false,"title":"Ppard expression (Rel fold)","titleX":-61,"values":[0,0.5,1,1.5,2,2.5],"format":".1f"}},"fill":{"field":"s","type":"nominal","title":null,"scale":{"domain":["PBS","BDNF"],"range":["#9c9ca0","#ff0000"]},"legend":{"disable":false,"orient":"none","legendX":-30,"legendY":-29,"direction":"horizontal","columns":2,"columnPadding":27,"labelOffset":12,"symbolType":"M-2,-.8H2V.8H-2Z","symbolSize":225}},"stroke":{"field":"s","type":"nominal","title":null,"scale":{"domain":["PBS","BDNF"],"range":["#9c9ca0","#ff0000"]},"legend":{"disable":false}}}},
{"data":{"name":"g_b"},"mark":{"type":"rule","strokeWidth":2.5},"encoding":{"y":{"field":"m","type":"quantitative"},"y2":{"field":"hi"},"stroke":{"field":"s","type":"nominal","title":null}}},
{"data":{"name":"g_b"},"mark":{"type":"point","shape":"stroke","size":196,"strokeWidth":2.5},"encoding":{"y":{"field":"hi","type":"quantitative"},"stroke":{"field":"s","type":"nominal","title":null}}},
{"data":{"name":"g_d"},"mark":{"type":"point","filled":true,"fill":"#fff","stroke":"#808080","strokeWidth":2.5,"size":80},"encoding":{"y":{"field":"v","type":"quantitative"}}},
{"data":{"values":[{"g":"siCamkk2","off":0.5,"y":1.76,"t":"b"}]},"mark":{"type":"text"},"encoding":{"y":{"field":"y","type":"quantitative"},"text":{"field":"t"}}},
{"data":{"values":[{"g":"siCtr","off":0.45,"y":2.3,"t":"* * *"}]},"mark":{"type":"text","fontSize":14,"dy":3},"encoding":{"y":{"field":"y","type":"quantitative"},"text":{"field":"t"}}}
]},
{"width":118,"height":1,"data":{"values":[]},"mark":"point"},
{"width":239,"height":237,"title":{"text":"H","dx":-79,"dy":-23},
"encoding":{"x":{"field":"g","type":"nominal","title":null,"scale":{"domain":["DMSO","STO609","Wortmannin"],"paddingInner":0.2,"paddingOuter":0.0575},"axis":{"labelPadding":19}},"xOffset":{"field":"off","type":"quantitative","scale":{"domain":[-1,1],"range":[1.8,63.8]}}},
"layer":[
{"data":{"name":"h_b"},"mark":{"type":"bar","width":19,"strokeWidth":1},"encoding":{"y":{"field":"m","type":"quantitative","stack":null,"scale":{"domain":[0,3.5],"nice":false},"axis":{"tickCount":50,"labelOverlap":false,"title":"Ppard expression (Rel fold)","titleX":-65,"values":[0,0.5,1,1.5,2,2.5,3,3.5],"format":".1f"}},"fill":{"field":"s","type":"nominal","title":null,"scale":{"domain":["PBS","BDNF"],"range":["#9c9ca0","#ff0000"]}},"stroke":{"field":"s","type":"nominal","title":null,"scale":{"domain":["PBS","BDNF"],"range":["#9c9ca0","#ff0000"]}}}},
{"data":{"name":"h_b"},"mark":{"type":"rule","strokeWidth":2.5},"encoding":{"y":{"field":"m","type":"quantitative"},"y2":{"field":"hi"},"stroke":{"field":"s","type":"nominal","title":null}}},
{"data":{"name":"h_b"},"mark":{"type":"point","shape":"stroke","size":196,"strokeWidth":2.5},"encoding":{"y":{"field":"hi","type":"quantitative"},"stroke":{"field":"s","type":"nominal","title":null}}},
{"data":{"name":"h_d"},"mark":{"type":"point","filled":true,"fill":"#fff","stroke":"#808080","strokeWidth":2.5,"size":80},"encoding":{"y":{"field":"v","type":"quantitative"}}},
{"data":{"values":[{"g":"DMSO","off":0.47,"y":2.39,"t":"*"},{"g":"Wortmannin","off":0.45,"y":3.31,"t":"* * *"}]},"mark":{"type":"text","fontSize":14,"dy":3},"encoding":{"y":{"field":"y","type":"quantitative"},"text":{"field":"t"}}}
]}
],"spacing":0,"bounds":"flush","resolve":{"scale":{"fill":"independent","stroke":"independent","xOffset":"independent","opacity":"independent"}}},
{"width":1,"height":399,"data":{"values":[]},"mark":"point"},
{"hconcat":[
{"width":99,"height":1,"data":{"values":[]},"mark":"point"},
{"width":349,"height":232,"title":{"text":"E","dx":-97,"dy":-27},
"encoding":{"x":{"field":"g","type":"nominal","title":null,"scale":{"domain":["Ppara","Ppard","Pparg"],"paddingInner":0.15,"paddingOuter":0.04},"axis":{"labelPadding":20}},"xOffset":{"field":"off","type":"quantitative","scale":{"domain":[-2,2],"range":[-0.4,101.6]}}},
"layer":[
{"data":{"name":"e_b"},"mark":{"type":"bar","width":15,"strokeWidth":2},"encoding":{"y":{"field":"m","type":"quantitative","stack":null,"scale":{"domain":[0,2.5],"nice":false},"axis":{"tickCount":50,"labelOverlap":false,"title":"Gene expression (Rel fold)","titleX":-61,"values":[0,0.5,1,1.5,2,2.5],"format":".1f"}},"fill":{"field":"s","type":"nominal","title":null,"scale":{"domain":["0 ng/ml","1 ng/ml","10 ng/ml","100 ng/ml"],"range":["#ffffff","#fddcdc","#ff8080","#ff0000"]},"legend":{"disable":false,"orient":"none","legendX":26,"legendY":3,"direction":"vertical","rowPadding":0.5,"labelOffset":26,"symbolType":"M-2,-.6H2V.6H-2Z","symbolSize":225}},"stroke":{"field":"s","type":"nominal","title":null,"scale":{"domain":["0 ng/ml","1 ng/ml","10 ng/ml","100 ng/ml"],"range":["#ff0000","#fddcdc","#ff8080","#ff0000"]},"legend":{"disable":false}}}},
{"data":{"name":"e_b"},"mark":{"type":"rule","strokeWidth":2.5},"encoding":{"y":{"field":"m","type":"quantitative"},"y2":{"field":"hi"},"stroke":{"field":"s","type":"nominal","title":null}}},
{"data":{"name":"e_b"},"mark":{"type":"point","shape":"stroke","size":196,"strokeWidth":2.5},"encoding":{"y":{"field":"hi","type":"quantitative"},"stroke":{"field":"s","type":"nominal","title":null}}},
{"data":{"name":"e_d"},"mark":{"type":"point","filled":true,"fill":"#fff","stroke":"#808080","strokeWidth":2.5,"size":80},"encoding":{"y":{"field":"v","type":"quantitative"}}},
{"data":{"values":[{"g":"Ppard","off":0.5,"y":1.985,"t":"* *"},{"g":"Ppard","off":1.5,"y":2.38,"t":"* * *"}]},"mark":{"type":"text","fontSize":14,"dy":3},"encoding":{"y":{"field":"y","type":"quantitative"},"text":{"field":"t"}}}
]},
{"width":202,"height":1,"data":{"values":[]},"mark":"point"},
{"vconcat":[
{"width":1,"height":26,"data":{"values":[]},"mark":"point"},
{"width":204,"height":203,"title":{"text":"K","dx":-163,"dy":16},
"layer":[
{"data":{"values":[{"x":67,"x2":67,"y":-200,"y2":1552},{"x":21.8,"x2":100.3,"y":687,"y2":687}]},"mark":{"type":"rule","stroke":"#a3a3a3","strokeWidth":2,"strokeDash":[8,6]},"encoding":{"x":{"field":"x","type":"quantitative","title":"ECAR (mpH/min)","scale":{"domain":[30,100],"nice":false,"zero":false},"axis":{"tickCount":50,"labelOverlap":false,"labelFlush":false,"format":"d","offset":29,"ticks":true,"tickSize":12,"values":[30,40,50,60,70,80,90,100],"domainColor":"#0000ff","tickColor":"#0000ff","labelColor":"#0000ff","titleColor":"#0000ff","labelPadding":8,"titlePadding":14}},"x2":{"field":"x2"},"y":{"field":"y","type":"quantitative","title":"OCR (pmol/min)","scale":{"domain":[0,1500],"nice":false},"axis":{"tickCount":50,"labelOverlap":false,"format":"d","offset":29,"titleX":-69,"values":[0,250,500,750,1000,1250,1500]}},"y2":{"field":"y2"}}},
{"data":{"values":[{"x":57.8,"x2":79.8,"y":1426,"y2":1426},{"x":46.5,"x2":74.2,"y":52,"y2":52}]},"mark":{"type":"rule","stroke":"#0000ff","strokeWidth":2},"encoding":{"x":{"field":"x","type":"quantitative"},"x2":{"field":"x2"},"y":{"field":"y","type":"quantitative"},"y2":{"field":"y2"}}},
{"data":{"values":[{"x":38.8,"x2":38.8,"y":1270,"y2":318},{"x":88.4,"x2":88.4,"y":1270,"y2":915},{"x":88.4,"x2":88.4,"y":872,"y2":207}]},"mark":{"type":"rule","stroke":"#000","strokeWidth":2},"encoding":{"x":{"field":"x","type":"quantitative"},"x2":{"field":"x2"},"y":{"field":"y","type":"quantitative"},"y2":{"field":"y2"}}},
{"data":{"name":"k_p"},"transform":[{"filter":"datum.group=='Ad-Ctr'"}],"mark":{"type":"line","stroke":"#9c9ca0","strokeWidth":2.5},"encoding":{"x":{"field":"ecar","type":"quantitative"},"y":{"field":"ocr","type":"quantitative"}}},
{"data":{"name":"k_p"},"transform":[{"filter":"datum.group=='Ad-shBDNF'"}],"mark":{"type":"line","stroke":"#ff0000","strokeWidth":2.5},"encoding":{"x":{"field":"ecar","type":"quantitative"},"y":{"field":"ocr","type":"quantitative"}}},
{"data":{"name":"k_p"},"mark":{"type":"rule","strokeWidth":2.5},"encoding":{"x":{"field":"xlo","type":"quantitative"},"x2":{"field":"xhi"},"y":{"field":"ocr","type":"quantitative"},"stroke":{"field":"sample","type":"nominal","title":null}}},
{"data":{"name":"k_p"},"mark":{"type":"point","shape":"M0,-1L0,1","size":361,"strokeWidth":2.5},"encoding":{"x":{"field":"xlo","type":"quantitative"},"y":{"field":"ocr","type":"quantitative"},"stroke":{"field":"sample","type":"nominal","title":null}}},
{"data":{"name":"k_p"},"mark":{"type":"point","shape":"M0,-1L0,1","size":361,"strokeWidth":2.5},"encoding":{"x":{"field":"xhi","type":"quantitative"},"y":{"field":"ocr","type":"quantitative"},"stroke":{"field":"sample","type":"nominal","title":null}}},
{"data":{"values":[{"ecar":58.5,"lo":1153,"hi":1359}]},"mark":{"type":"rule","stroke":"#9c9ca0","strokeWidth":2.5},"encoding":{"x":{"field":"ecar","type":"quantitative"},"y":{"field":"lo","type":"quantitative"},"y2":{"field":"hi"}}},
{"data":{"values":[{"ecar":58.5,"v":1153},{"ecar":58.5,"v":1359}]},"mark":{"type":"point","shape":"stroke","stroke":"#9c9ca0","size":361,"strokeWidth":2.5},"encoding":{"x":{"field":"ecar","type":"quantitative"},"y":{"field":"v","type":"quantitative"}}},
{"data":{"name":"k_p"},"mark":{"type":"point","filled":true,"size":260,"strokeWidth":2.5},"encoding":{"x":{"field":"ecar","type":"quantitative"},"y":{"field":"ocr","type":"quantitative"},"fill":{"field":"sample","type":"nominal","title":null,"scale":{"domain":["Ad-Ctr Basal","Ad-Ctr Stressed","Ad-shBDNF Basal","Ad-shBDNF Stressed"],"range":["#ffffff","#9c9ca0","#ffffff","#ff0000"]},"legend":{"disable":false,"orient":"none","legendX":-126,"legendY":-77,"columns":2,"direction":"horizontal","columnPadding":25,"rowPadding":7,"labelOffset":21,"symbolType":"circle","symbolSize":283}},"stroke":{"field":"sample","type":"nominal","title":null,"scale":{"domain":["Ad-Ctr Basal","Ad-Ctr Stressed","Ad-shBDNF Basal","Ad-shBDNF Stressed"],"range":["#9c9ca0","#9c9ca0","#ff0000","#ff0000"]},"legend":{"disable":false}}}},
{"data":{"name":"k_txt"},"mark":{"type":"text","align":"left"},"encoding":{"x":{"field":"x","type":"quantitative"},"y":{"field":"y","type":"quantitative"},"text":{"field":"t"}}},
{"data":{"values":[{"x":68.8,"y":1522,"t":"*"},{"x":60,"y":-22,"t":"**"}]},"mark":{"type":"text","fontSize":14,"dy":3,"color":"#0000ff"},"encoding":{"x":{"field":"x","type":"quantitative"},"y":{"field":"y","type":"quantitative"},"text":{"field":"t"}}},
{"data":{"values":[{"x":34.5,"y":828,"t":"***"},{"x":91.9,"y":1078,"t":"***"},{"x":91.9,"y":480,"t":"***"}]},"mark":{"type":"text","fontSize":14,"angle":270,"dx":3},"encoding":{"x":{"field":"x","type":"quantitative"},"y":{"field":"y","type":"quantitative"},"text":{"field":"t"}}}
]}
],"spacing":0,"bounds":"flush","resolve":{"scale":{"fill":"independent","stroke":"independent","xOffset":"independent","opacity":"independent"}}}
],"spacing":0,"bounds":"flush","resolve":{"scale":{"fill":"independent","stroke":"independent","xOffset":"independent","opacity":"independent"}}},
{"width":1,"height":364,"data":{"values":[]},"mark":"point"},
{"hconcat":[
{"width":7,"height":1,"data":{"values":[]},"mark":"point"},
{"width":336,"height":500,"title":{"text":"J","dx":-5,"dy":3},
"layer":[
{"data":{"name":"jb_r"},"mark":{"type":"rect","fill":"#000"},"encoding":{"x":{"field":"x","type":"quantitative","scale":{"domain":[-2,6],"nice":false,"zero":false},"axis":null},"x2":{"field":"x2"},"y":{"field":"y","type":"quantitative","scale":{"domain":[100,0],"nice":false,"zero":false},"axis":null},"y2":{"field":"y2"},"opacity":{"field":"o","type":"quantitative","scale":{"domain":[0,1],"range":[0,1]}}}},
{"data":{"name":"jb_l"},"mark":{"type":"rule","stroke":"#000","strokeWidth":2.5},"encoding":{"x":{"field":"x","type":"quantitative"},"x2":{"field":"x2"},"y":{"field":"y","type":"quantitative"},"y2":{"field":"y2"}}},
{"data":{"name":"jb_t"},"mark":{"type":"text","align":"left"},"encoding":{"x":{"field":"x","type":"quantitative"},"y":{"field":"y","type":"quantitative"},"text":{"field":"t"}}},
{"data":{"name":"jb_k"},"mark":{"type":"text","align":"right"},"encoding":{"x":{"field":"x","type":"quantitative"},"y":{"field":"y","type":"quantitative"},"text":{"field":"t"}}},
{"data":{"name":"jb_c"},"mark":{"type":"text"},"encoding":{"x":{"field":"x","type":"quantitative"},"y":{"field":"y","type":"quantitative"},"text":{"field":"t"}}},
{"data":{"name":"jb_v"},"mark":{"type":"text","angle":270},"encoding":{"x":{"field":"x","type":"quantitative"},"y":{"field":"y","type":"quantitative"},"text":{"field":"t"}}},
{"data":{"values":[{"x":4.8,"y":77.4}]},"mark":{"type":"point","shape":"triangle-left","filled":true,"fill":"#e0202c","size":170},"encoding":{"x":{"field":"x","type":"quantitative"},"y":{"field":"y","type":"quantitative"}}}
]},
{"width":70,"height":1,"data":{"values":[]},"mark":"point"},
{"vconcat":[
{"width":1,"height":69,"data":{"values":[]},"mark":"point"},
{"width":95,"height":93,
"encoding":{"x":{"field":"c","type":"nominal","title":null,"scale":{"domain":["PBS DMSO","PBS GSK"," ","BDNF DMSO","BDNF GSK"],"paddingInner":0.2,"paddingOuter":0.425},"axis":{"labels":false}},"xOffset":{"field":"off","type":"quantitative","scale":{"domain":[-1,1],"range":[-3.3,16.7]}}},
"layer":[
{"data":{"name":"j1_b"},"mark":{"type":"bar","width":12,"strokeWidth":2.5},"encoding":{"y":{"field":"m","type":"quantitative","stack":null,"scale":{"domain":[0,3],"nice":false},"axis":{"tickCount":50,"labelOverlap":false,"format":"d","title":["PGC-1α/Tub","(Rel fold)"],"titleX":-72,"values":[0,1,2,3]}},"fill":{"field":"s","type":"nominal","title":null,"scale":{"domain":["PBS","BDNF"],"range":["#ffffff","#ff0000"]},"legend":{"disable":false,"orient":"none","legendX":11,"legendY":-50,"direction":"vertical","rowPadding":-5,"labelOffset":15,"symbolType":"M-2.2,-.7H2.2V.7H-2.2Z","symbolSize":225}},"stroke":{"field":"s","type":"nominal","title":null,"scale":{"domain":["PBS","BDNF"],"range":["#000000","#ff0000"]},"legend":{"disable":false}}}},
{"data":{"name":"j1_b"},"mark":{"type":"rule","strokeWidth":2.5},"encoding":{"y":{"field":"m","type":"quantitative"},"y2":{"field":"hi"},"stroke":{"field":"s","type":"nominal","title":null}}},
{"data":{"name":"j1_b"},"mark":{"type":"point","shape":"stroke","size":144,"strokeWidth":2.5},"encoding":{"y":{"field":"hi","type":"quantitative"},"stroke":{"field":"s","type":"nominal","title":null}}},
{"data":{"name":"j1_d"},"mark":{"type":"point","filled":true,"fill":"#fff","stroke":"#a0a0a0","strokeWidth":2.5,"size":70},"encoding":{"y":{"field":"v","type":"quantitative"}}},
{"data":{"name":"j1_r"},"mark":{"type":"rule","stroke":"#000","strokeWidth":2,"x2Offset":-2},"encoding":{"xOffset":null,"x":{"field":"c"},"x2":{"field":"c2"},"y":{"field":"y","type":"quantitative"}}},
{"data":{"name":"j1_q"},"mark":{"type":"rule","stroke":"#000","strokeWidth":2,"xOffset":3,"x2Offset":6},"encoding":{"xOffset":null,"x":{"field":"c"},"x2":{"field":"c2"},"y":{"field":"y","type":"quantitative"}}},
{"data":{"name":"j1_s"},"mark":{"type":"text","fontSize":14,"dy":3},"encoding":{"y":{"field":"y","type":"quantitative"},"text":{"field":"t"}}}
]},
{"width":1,"height":32,"data":{"values":[]},"mark":"point"},
{"width":95,"height":93,
"encoding":{"x":{"field":"c","type":"nominal","title":null,"scale":{"domain":["PBS DMSO","PBS GSK"," ","BDNF DMSO","BDNF GSK"],"paddingInner":0.2,"paddingOuter":0.425},"axis":{"labels":false}},"xOffset":{"field":"off","type":"quantitative","scale":{"domain":[-1,1],"range":[-3.3,16.7]}}},
"layer":[
{"data":{"name":"j2_b"},"mark":{"type":"bar","width":12,"strokeWidth":2.5},"encoding":{"y":{"field":"m","type":"quantitative","stack":null,"scale":{"domain":[0,10],"nice":false},"axis":{"tickCount":50,"labelOverlap":false,"format":"d","title":["VDAC/Tub","(Rel fold)"],"titleX":-72,"values":[0,2,4,6,8,10]}},"fill":{"field":"s","type":"nominal","title":null,"scale":{"domain":["PBS","BDNF"],"range":["#ffffff","#ff0000"]}},"stroke":{"field":"s","type":"nominal","title":null,"scale":{"domain":["PBS","BDNF"],"range":["#000000","#ff0000"]}}}},
{"data":{"name":"j2_b"},"mark":{"type":"rule","strokeWidth":2.5},"encoding":{"y":{"field":"m","type":"quantitative"},"y2":{"field":"hi"},"stroke":{"field":"s","type":"nominal","title":null}}},
{"data":{"name":"j2_b"},"mark":{"type":"point","shape":"stroke","size":144,"strokeWidth":2.5},"encoding":{"y":{"field":"hi","type":"quantitative"},"stroke":{"field":"s","type":"nominal","title":null}}},
{"data":{"name":"j2_d"},"mark":{"type":"point","filled":true,"fill":"#fff","stroke":"#a0a0a0","strokeWidth":2.5,"size":70},"encoding":{"y":{"field":"v","type":"quantitative"}}},
{"data":{"name":"j2_r"},"mark":{"type":"rule","stroke":"#000","strokeWidth":2,"x2Offset":-2},"encoding":{"xOffset":null,"x":{"field":"c"},"x2":{"field":"c2"},"y":{"field":"y","type":"quantitative"}}},
{"data":{"name":"j2_q"},"mark":{"type":"rule","stroke":"#000","strokeWidth":2,"xOffset":3,"x2Offset":6},"encoding":{"xOffset":null,"x":{"field":"c"},"x2":{"field":"c2"},"y":{"field":"y","type":"quantitative"}}},
{"data":{"name":"j2_s"},"mark":{"type":"text","fontSize":14,"dy":3},"encoding":{"y":{"field":"y","type":"quantitative"},"text":{"field":"t"}}}
]},
{"width":1,"height":38,"data":{"values":[]},"mark":"point"},
{"width":95,"height":93,
"encoding":{"x":{"field":"c","type":"nominal","title":null,"scale":{"domain":["PBS DMSO","PBS GSK"," ","BDNF DMSO","BDNF GSK"],"paddingInner":0.2,"paddingOuter":0.425},"axis":{"labels":false}},"xOffset":{"field":"off","type":"quantitative","scale":{"domain":[-1,1],"range":[-3.3,16.7]}}},
"layer":[
{"data":{"name":"j3_b"},"mark":{"type":"bar","width":12,"strokeWidth":2.5},"encoding":{"y":{"field":"m","type":"quantitative","stack":null,"scale":{"domain":[0,4],"nice":false},"axis":{"tickCount":50,"labelOverlap":false,"format":"d","title":["Parkin/VDAC","(Rel fold)"],"titleX":-72,"values":[0,1,2,3,4]}},"fill":{"field":"s","type":"nominal","title":null,"scale":{"domain":["PBS","BDNF"],"range":["#ffffff","#ff0000"]}},"stroke":{"field":"s","type":"nominal","title":null,"scale":{"domain":["PBS","BDNF"],"range":["#000000","#ff0000"]}}}},
{"data":{"name":"j3_b"},"mark":{"type":"rule","strokeWidth":2.5},"encoding":{"y":{"field":"m","type":"quantitative"},"y2":{"field":"hi"},"stroke":{"field":"s","type":"nominal","title":null}}},
{"data":{"name":"j3_b"},"mark":{"type":"point","shape":"stroke","size":144,"strokeWidth":2.5},"encoding":{"y":{"field":"hi","type":"quantitative"},"stroke":{"field":"s","type":"nominal","title":null}}},
{"data":{"name":"j3_d"},"mark":{"type":"point","filled":true,"fill":"#fff","stroke":"#a0a0a0","strokeWidth":2.5,"size":70},"encoding":{"y":{"field":"v","type":"quantitative"}}},
{"data":{"name":"j3_r"},"mark":{"type":"rule","stroke":"#000","strokeWidth":2,"x2Offset":-2},"encoding":{"xOffset":null,"x":{"field":"c"},"x2":{"field":"c2"},"y":{"field":"y","type":"quantitative"}}},
{"data":{"name":"j3_q"},"mark":{"type":"rule","stroke":"#000","strokeWidth":2,"xOffset":3,"x2Offset":6},"encoding":{"xOffset":null,"x":{"field":"c"},"x2":{"field":"c2"},"y":{"field":"y","type":"quantitative"}}},
{"data":{"name":"j3_s"},"mark":{"type":"text","fontSize":14,"dy":3},"encoding":{"y":{"field":"y","type":"quantitative"},"text":{"field":"t"}}}
]},
{"width":1,"height":41,"data":{"values":[]},"mark":"point"},
{"width":95,"height":93,
"encoding":{"x":{"field":"c","type":"nominal","title":null,"scale":{"domain":["PBS DMSO","PBS GSK"," ","BDNF DMSO","BDNF GSK"],"paddingInner":0.2,"paddingOuter":0.425},"axis":{"labelAngle":270,"labelBaseline":"middle","labelPadding":16,"labelExpr":"split(datum.label,' ')[1]"}},"xOffset":{"field":"off","type":"quantitative","scale":{"domain":[-1,1],"range":[-3.3,16.7]}}},
"layer":[
{"data":{"name":"j4_b"},"mark":{"type":"bar","width":12,"strokeWidth":2.5},"encoding":{"y":{"field":"m","type":"quantitative","stack":null,"scale":{"domain":[0,5],"nice":false},"axis":{"tickCount":50,"labelOverlap":false,"format":"d","title":["LC3-II/VDAC","(Rel fold)"],"titleX":-72,"values":[0,1,2,3,4,5]}},"fill":{"field":"s","type":"nominal","title":null,"scale":{"domain":["PBS","BDNF"],"range":["#ffffff","#ff0000"]}},"stroke":{"field":"s","type":"nominal","title":null,"scale":{"domain":["PBS","BDNF"],"range":["#000000","#ff0000"]}}}},
{"data":{"name":"j4_b"},"mark":{"type":"rule","strokeWidth":2.5},"encoding":{"y":{"field":"m","type":"quantitative"},"y2":{"field":"hi"},"stroke":{"field":"s","type":"nominal","title":null}}},
{"data":{"name":"j4_b"},"mark":{"type":"point","shape":"stroke","size":144,"strokeWidth":2.5},"encoding":{"y":{"field":"hi","type":"quantitative"},"stroke":{"field":"s","type":"nominal","title":null}}},
{"data":{"name":"j4_d"},"mark":{"type":"point","filled":true,"fill":"#fff","stroke":"#a0a0a0","strokeWidth":2.5,"size":70},"encoding":{"y":{"field":"v","type":"quantitative"}}},
{"data":{"name":"j4_r"},"mark":{"type":"rule","stroke":"#000","strokeWidth":2,"x2Offset":-2},"encoding":{"xOffset":null,"x":{"field":"c"},"x2":{"field":"c2"},"y":{"field":"y","type":"quantitative"}}},
{"data":{"name":"j4_q"},"mark":{"type":"rule","stroke":"#000","strokeWidth":2,"xOffset":3,"x2Offset":6},"encoding":{"xOffset":null,"x":{"field":"c"},"x2":{"field":"c2"},"y":{"field":"y","type":"quantitative"}}},
{"data":{"name":"j4_s"},"mark":{"type":"text","fontSize":14,"dy":3},"encoding":{"y":{"field":"y","type":"quantitative"},"text":{"field":"t"}}}
]}
],"spacing":0,"bounds":"flush","resolve":{"scale":{"fill":"independent","stroke":"independent","xOffset":"independent","opacity":"independent"}}},
{"width":225.5,"height":1,"data":{"values":[]},"mark":"point"},
{"vconcat":[
{"width":1,"height":12,"data":{"values":[]},"mark":"point"},
{"width":104.5,"height":206,"title":{"text":"L","dx":-76,"dy":17},"data":{"name":"l1_p"},
"encoding":{"x":{"field":"st","type":"nominal","title":null,"scale":{"type":"point","domain":["Basal","Stressed"],"padding":0.7},"axis":{"labels":false}}},
"layer":[
{"mark":{"type":"line","strokeWidth":2.5},"encoding":{"y":{"field":"m","type":"quantitative","scale":{"domain":[0,25],"nice":false},"axis":{"tickCount":50,"labelOverlap":false,"format":"d","title":"OCR/ECAR ratio","titleX":-70,"values":[0,5,10,15,20,25]}},"stroke":{"field":"s","type":"nominal","title":null,"scale":{"domain":["Ad-Ctr","Ad-shBDNF"],"range":["#9c9ca0","#ff0000"]}}}},
{"mark":{"type":"rule","strokeWidth":2.5},"encoding":{"y":{"field":"lo","type":"quantitative"},"y2":{"field":"hi"},"stroke":{"field":"s","type":"nominal","title":null}}},
{"transform":[{"filter":"datum.hi>datum.lo"}],"mark":{"type":"point","shape":"stroke","size":484,"strokeWidth":2.5},"encoding":{"y":{"field":"hi","type":"quantitative"},"stroke":{"field":"s","type":"nominal","title":null}}},
{"transform":[{"filter":"datum.hi>datum.lo"}],"mark":{"type":"point","shape":"stroke","size":484,"strokeWidth":2.5},"encoding":{"y":{"field":"lo","type":"quantitative"},"stroke":{"field":"s","type":"nominal","title":null}}},
{"mark":{"type":"point","filled":true,"size":340,"strokeWidth":2.5},"encoding":{"y":{"field":"m","type":"quantitative"},"fill":{"field":"s","type":"nominal","title":null,"scale":{"domain":["Ad-Ctr","Ad-shBDNF"],"range":["#9c9ca0","#ffffff"]}},"stroke":{"field":"s","type":"nominal","title":null}}},
{"data":{"values":[{"st":"Stressed","y":27,"t":"c"},{"st":"Stressed","y":7.7,"t":"b"}]},"mark":{"type":"text"},"encoding":{"y":{"field":"y","type":"quantitative"},"text":{"field":"t"}}},
{"data":{"values":[{"st":"Stressed","y":24.4,"t":"* * *"}]},"mark":{"type":"text","fontSize":14,"dy":3},"encoding":{"y":{"field":"y","type":"quantitative"},"text":{"field":"t"}}}
]},
{"width":1,"height":40,"data":{"values":[]},"mark":"point"},
{"width":104.5,"height":206,"data":{"name":"l2_p"},
"encoding":{"x":{"field":"st","type":"nominal","title":null,"scale":{"type":"point","domain":["Basal","Stressed"],"padding":0.7},"axis":{"labelAngle":270,"labelBaseline":"middle","labelPadding":12}}},
"layer":[
{"mark":{"type":"line","strokeWidth":2.5},"encoding":{"y":{"field":"m","type":"quantitative","scale":{"domain":[80,140],"nice":false,"zero":false},"axis":{"tickCount":50,"labelOverlap":false,"format":"d","title":"ECAR (Rel %)","titleX":-70,"values":[80,100,120,140]}},"stroke":{"field":"s","type":"nominal","title":null,"scale":{"domain":["Ad-Ctr","Ad-shBDNF"],"range":["#9c9ca0","#ff0000"]}}}},
{"mark":{"type":"rule","strokeWidth":2.5},"encoding":{"y":{"field":"lo","type":"quantitative"},"y2":{"field":"hi"},"stroke":{"field":"s","type":"nominal","title":null}}},
{"transform":[{"filter":"datum.hi>datum.lo"}],"mark":{"type":"point","shape":"stroke","size":484,"strokeWidth":2.5},"encoding":{"y":{"field":"hi","type":"quantitative"},"stroke":{"field":"s","type":"nominal","title":null}}},
{"transform":[{"filter":"datum.hi>datum.lo"}],"mark":{"type":"point","shape":"stroke","size":484,"strokeWidth":2.5},"encoding":{"y":{"field":"lo","type":"quantitative"},"stroke":{"field":"s","type":"nominal","title":null}}},
{"mark":{"type":"point","filled":true,"size":340,"strokeWidth":2.5},"encoding":{"y":{"field":"m","type":"quantitative"},"fill":{"field":"s","type":"nominal","title":null,"scale":{"domain":["Ad-Ctr","Ad-shBDNF"],"range":["#9c9ca0","#ffffff"]},"legend":{"disable":false,"orient":"none","legendX":-55,"legendY":304,"direction":"vertical","rowPadding":-2,"labelOffset":19,"symbolType":"M-1.5,0H-1M1,0H1.5M1,0A1,1 0 1 1-1,0A1,1 0 1 1 1,0Z","symbolSize":484}},"stroke":{"field":"s","type":"nominal","title":null,"legend":{"disable":false}}}},
{"data":{"values":[{"st":"Stressed","y":146.8,"t":"c"}]},"mark":{"type":"text"},"encoding":{"y":{"field":"y","type":"quantitative"},"text":{"field":"t"}}},
{"data":{"values":[{"st":"Stressed","y":140.9,"t":"* *"}]},"mark":{"type":"text","fontSize":14,"dy":3},"encoding":{"y":{"field":"y","type":"quantitative"},"text":{"field":"t"}}}
]}
],"spacing":0,"bounds":"flush","resolve":{"scale":{"fill":"independent","stroke":"independent","xOffset":"independent","opacity":"independent"}}},
{"width":212.5,"height":1,"data":{"values":[]},"mark":"point"},
{"vconcat":[
{"width":1,"height":91,"data":{"values":[]},"mark":"point"},
{"width":277,"height":214,"title":{"text":"M","dx":-93,"dy":-1},
"encoding":{"x":{"field":"g","type":"nominal","title":null,"scale":{"domain":["PBS","BDNF","PBS + GSK","BDNF + GSK"],"paddingInner":0.3,"paddingOuter":0.08},"axis":{"labels":false}}},
"layer":[
{"data":{"name":"m_p"},"mark":{"type":"line","strokeWidth":2.5},"encoding":{"xOffset":{"field":"st","type":"nominal","scale":{"domain":["Basal","Stressed"],"paddingInner":0.5,"paddingOuter":0.143}},"y":{"field":"m","type":"quantitative","scale":{"domain":[0,30],"nice":false},"axis":{"tickCount":50,"labelOverlap":false,"format":"d","title":"OCR/ECAR ratio","titleX":-59,"values":[0,5,10,15,20,25,30]}},"stroke":{"field":"g","type":"nominal","title":null,"scale":{"domain":["PBS","PBS + GSK","BDNF","BDNF + GSK"],"range":["#000000","#9c9ca0","#ff0000","#fddcdc"]}}}},
{"data":{"name":"m_p"},"mark":{"type":"rule","strokeWidth":2.5},"encoding":{"xOffset":{"field":"st","type":"nominal"},"y":{"field":"lo","type":"quantitative"},"y2":{"field":"hi"},"stroke":{"field":"g","type":"nominal","title":null}}},
{"data":{"name":"m_p"},"transform":[{"filter":"datum.hi>datum.lo"}],"mark":{"type":"point","shape":"stroke","size":484,"strokeWidth":2.5},"encoding":{"xOffset":{"field":"st","type":"nominal"},"y":{"field":"hi","type":"quantitative"},"stroke":{"field":"g","type":"nominal","title":null}}},
{"data":{"name":"m_p"},"transform":[{"filter":"datum.hi>datum.lo"}],"mark":{"type":"point","shape":"stroke","size":484,"strokeWidth":2.5},"encoding":{"xOffset":{"field":"st","type":"nominal"},"y":{"field":"lo","type":"quantitative"},"stroke":{"field":"g","type":"nominal","title":null}}},
{"data":{"name":"m_p"},"mark":{"type":"point","filled":true,"size":400,"strokeWidth":2.5},"encoding":{"xOffset":{"field":"st","type":"nominal"},"y":{"field":"m","type":"quantitative"},"fill":{"field":"g","type":"nominal","title":null,"scale":{"domain":["PBS","PBS + GSK","BDNF","BDNF + GSK"],"range":["#000000","#9c9ca0","#ff0000","#fddcdc"]},"legend":{"disable":false,"orient":"none","legendX":-60,"legendY":-84,"columns":2,"direction":"horizontal","columnPadding":45,"rowPadding":-3,"labelOffset":26,"symbolType":"M-1.9,0H-1M1,0H1.9M1,0A1,1 0 1 1-1,0A1,1 0 1 1 1,0Z","symbolSize":484}},"stroke":{"field":"g","type":"nominal","title":null,"legend":{"disable":false}}}},
{"data":{"name":"m_p"},"mark":{"type":"text","angle":270,"align":"right","baseline":"middle"},"encoding":{"xOffset":{"field":"st","type":"nominal"},"y":{"datum":-2},"text":{"field":"st"}}},
{"data":{"values":[{"g":"PBS","g2":"BDNF","y":30.9}]},"mark":{"type":"rule","stroke":"#000","strokeWidth":2.5,"xOffset":13,"x2Offset":10},"encoding":{"x2":{"field":"g2"},"y":{"field":"y","type":"quantitative"}}},
{"data":{"values":[{"g":"BDNF","g2":"BDNF","y":28.6}]},"mark":{"type":"rule","stroke":"#000","strokeWidth":2.5,"xOffset":-25,"x2Offset":12},"encoding":{"x2":{"field":"g2"},"y":{"field":"y","type":"quantitative"}}},
{"data":{"values":[{"g":"BDNF","g2":"BDNF + GSK","y":28.6}]},"mark":{"type":"rule","stroke":"#000","strokeWidth":2.5,"xOffset":15,"x2Offset":10},"encoding":{"x2":{"field":"g2"},"y":{"field":"y","type":"quantitative"}}},
{"data":{"values":[{"g":"BDNF","y":32,"t":"*"}]},"mark":{"type":"text","fontSize":14,"dy":3,"dx":-23},"encoding":{"y":{"field":"y","type":"quantitative"},"text":{"field":"t"}}},
{"data":{"values":[{"g":"BDNF","y":29.4,"t":"*"}]},"mark":{"type":"text","fontSize":14,"dy":3,"dx":-10},"encoding":{"y":{"field":"y","type":"quantitative"},"text":{"field":"t"}}},
{"data":{"values":[{"g":"PBS + GSK","y":29.4,"t":"*"}]},"mark":{"type":"text","fontSize":14,"dy":3,"dx":6},"encoding":{"y":{"field":"y","type":"quantitative"},"text":{"field":"t"}}}
]}
],"spacing":0,"bounds":"flush","resolve":{"scale":{"fill":"independent","stroke":"independent","xOffset":"independent","opacity":"independent"}}}
],"spacing":0,"bounds":"flush","resolve":{"scale":{"fill":"independent","stroke":"independent","xOffset":"independent","opacity":"independent"}}}
],"spacing":0,"bounds":"flush","resolve":{"scale":{"fill":"independent","stroke":"independent","xOffset":"independent","opacity":"independent"}}},
{"width":1288,"height":1,"data":{"values":[]},"mark":"point"},
{"vconcat":[
{"width":1,"height":449,"data":{"values":[]},"mark":"point"},
{"width":209,"height":154,"title":{"text":"I","dx":-145,"dy":3},
"encoding":{"x":{"field":"g","type":"nominal","title":null,"scale":{"domain":["DMSO","GSK3787"],"paddingInner":0.3,"paddingOuter":0.1},"axis":{"labels":false}},"xOffset":{"field":"off","type":"quantitative","scale":{"domain":[-1,1],"range":[-2.5,79.5]}}},
"layer":[
{"data":{"name":"i1_b"},"mark":{"type":"bar","width":24,"strokeWidth":2.5},"encoding":{"y":{"field":"m","type":"quantitative","stack":null,"scale":{"domain":[0,2],"nice":false},"axis":{"tickCount":50,"labelOverlap":false,"title":["Pdk4 expression","(Rel fold)"],"titleX":-105,"values":[0,0.5,1,1.5,2],"format":".1f"}},"fill":{"field":"s","type":"nominal","title":null,"scale":{"domain":["PBS","BDNF"],"range":["#ffffff","#ff0000"]},"legend":{"disable":false,"orient":"none","legendX":-59,"legendY":-51,"direction":"horizontal","columns":2,"columnPadding":38,"labelOffset":21,"symbolType":"M-2.8,-.8H2.8V.8H-2.8Z","symbolSize":225}},"stroke":{"field":"s","type":"nominal","title":null,"scale":{"domain":["PBS","BDNF"],"range":["#000000","#ff0000"]},"legend":{"disable":false}}}},
{"data":{"name":"i1_d"},"mark":{"type":"point","filled":true,"fill":"#fff","stroke":"#808080","strokeWidth":2.5,"size":100},"encoding":{"y":{"field":"v","type":"quantitative"}}},
{"data":{"values":[{"g":"GSK3787","off":0.45,"y":1.3,"t":"c"}]},"mark":{"type":"text"},"encoding":{"y":{"field":"y","type":"quantitative"},"text":{"field":"t"}}},
{"data":{"values":[{"g":"DMSO","off":0.41,"y":1.77,"t":"*  *  *"}]},"mark":{"type":"text","fontSize":14,"dy":3},"encoding":{"y":{"field":"y","type":"quantitative"},"text":{"field":"t"}}}
]},
{"width":1,"height":61,"data":{"values":[]},"mark":"point"},
{"width":209,"height":153,
"encoding":{"x":{"field":"g","type":"nominal","title":null,"scale":{"domain":["DMSO","GSK3787"],"paddingInner":0.3,"paddingOuter":0.1},"axis":{"labels":false}},"xOffset":{"field":"off","type":"quantitative","scale":{"domain":[-1,1],"range":[-2.5,79.5]}}},
"layer":[
{"data":{"name":"i2_b"},"mark":{"type":"bar","width":24,"strokeWidth":2.5},"encoding":{"y":{"field":"m","type":"quantitative","stack":null,"scale":{"domain":[0,1.5],"nice":false},"axis":{"tickCount":50,"labelOverlap":false,"title":["Acadl expression","(Rel fold)"],"titleX":-105,"values":[0,0.5,1,1.5],"format":".1f"}},"fill":{"field":"s","type":"nominal","title":null,"scale":{"domain":["PBS","BDNF"],"range":["#ffffff","#ff0000"]}},"stroke":{"field":"s","type":"nominal","title":null,"scale":{"domain":["PBS","BDNF"],"range":["#000000","#ff0000"]}}}},
{"data":{"name":"i2_d"},"mark":{"type":"point","filled":true,"fill":"#fff","stroke":"#808080","strokeWidth":2.5,"size":100,"clip":true},"encoding":{"y":{"field":"v","type":"quantitative"}}},
{"data":{"values":[{"g":"GSK3787","off":-0.52,"y":1.28,"t":"a"},{"g":"GSK3787","off":0.45,"y":1.225,"t":"c"}]},"mark":{"type":"text"},"encoding":{"y":{"field":"y","type":"quantitative"},"text":{"field":"t"}}},
{"data":{"values":[{"g":"DMSO","off":0.41,"y":1.555,"t":"*  *  *"},{"g":"GSK3787","off":0.45,"y":0.97,"t":"*  *  *"}]},"mark":{"type":"text","fontSize":14,"dy":3},"encoding":{"y":{"field":"y","type":"quantitative"},"text":{"field":"t"}}}
]},
{"width":1,"height":68,"data":{"values":[]},"mark":"point"},
{"width":209,"height":154,
"encoding":{"x":{"field":"g","type":"nominal","title":null,"scale":{"domain":["DMSO","GSK3787"],"paddingInner":0.3,"paddingOuter":0.1},"axis":{"labels":false}},"xOffset":{"field":"off","type":"quantitative","scale":{"domain":[-1,1],"range":[-2.5,79.5]}}},
"layer":[
{"data":{"name":"i3_b"},"mark":{"type":"bar","width":24,"strokeWidth":2.5},"encoding":{"y":{"field":"m","type":"quantitative","stack":null,"scale":{"domain":[0,2],"nice":false},"axis":{"tickCount":50,"labelOverlap":false,"title":["Cpt1b expression","(Rel fold)"],"titleX":-105,"values":[0,0.5,1,1.5,2],"format":".1f"}},"fill":{"field":"s","type":"nominal","title":null,"scale":{"domain":["PBS","BDNF"],"range":["#ffffff","#ff0000"]}},"stroke":{"field":"s","type":"nominal","title":null,"scale":{"domain":["PBS","BDNF"],"range":["#000000","#ff0000"]}}}},
{"data":{"name":"i3_b"},"mark":{"type":"rule","strokeWidth":2.5},"encoding":{"y":{"field":"m","type":"quantitative"},"y2":{"field":"hi"},"stroke":{"field":"s","type":"nominal","title":null}}},
{"data":{"name":"i3_b"},"mark":{"type":"point","shape":"stroke","size":729,"strokeWidth":2.5},"encoding":{"y":{"field":"m","type":"quantitative"},"stroke":{"field":"s","type":"nominal","title":null}}},
{"data":{"name":"i3_d"},"mark":{"type":"point","filled":true,"fill":"#fff","stroke":"#808080","strokeWidth":2.5,"size":100},"encoding":{"y":{"field":"v","type":"quantitative"}}},
{"data":{"values":[{"g":"GSK3787","off":0.47,"y":1.12,"t":"b"}]},"mark":{"type":"text"},"encoding":{"y":{"field":"y","type":"quantitative"},"text":{"field":"t"}}},
{"data":{"values":[{"g":"DMSO","off":0.47,"y":1.8,"t":"*"}]},"mark":{"type":"text","fontSize":14,"dy":3},"encoding":{"y":{"field":"y","type":"quantitative"},"text":{"field":"t"}}}
]},
{"width":1,"height":70,"data":{"values":[]},"mark":"point"},
{"width":209,"height":154,
"encoding":{"x":{"field":"g","type":"nominal","title":null,"scale":{"domain":["DMSO","GSK3787"],"paddingInner":0.3,"paddingOuter":0.1},"axis":{"labels":false}},"xOffset":{"field":"off","type":"quantitative","scale":{"domain":[-1,1],"range":[-2.5,79.5]}}},
"layer":[
{"data":{"name":"i4_b"},"mark":{"type":"bar","width":24,"strokeWidth":2.5},"encoding":{"y":{"field":"m","type":"quantitative","stack":null,"scale":{"domain":[0,1.5],"nice":false},"axis":{"tickCount":50,"labelOverlap":false,"title":["Prkn expression","(Rel fold)"],"titleX":-105,"values":[0,0.5,1,1.5],"format":".1f"}},"fill":{"field":"s","type":"nominal","title":null,"scale":{"domain":["PBS","BDNF"],"range":["#ffffff","#ff0000"]}},"stroke":{"field":"s","type":"nominal","title":null,"scale":{"domain":["PBS","BDNF"],"range":["#000000","#ff0000"]}}}},
{"data":{"name":"i4_b"},"mark":{"type":"rule","strokeWidth":2.5},"encoding":{"y":{"field":"m","type":"quantitative"},"y2":{"field":"hi"},"stroke":{"field":"s","type":"nominal","title":null}}},
{"data":{"name":"i4_d"},"mark":{"type":"point","filled":true,"fill":"#fff","stroke":"#808080","strokeWidth":2.5,"size":100,"clip":true},"encoding":{"y":{"field":"v","type":"quantitative"}}},
{"data":{"values":[{"g":"GSK3787","off":0.47,"y":1.39,"t":"a"}]},"mark":{"type":"text"},"encoding":{"y":{"field":"y","type":"quantitative"},"text":{"field":"t"}}},
{"data":{"values":[{"g":"DMSO","off":0.44,"y":1.63,"t":"*"}]},"mark":{"type":"text","fontSize":14,"dy":3},"encoding":{"y":{"field":"y","type":"quantitative"},"text":{"field":"t"}}}
]},
{"width":1,"height":70,"data":{"values":[]},"mark":"point"},
{"width":209,"height":154,
"encoding":{"x":{"field":"g","type":"nominal","title":null,"scale":{"domain":["DMSO","GSK3787"],"paddingInner":0.3,"paddingOuter":0.1},"axis":{"labels":false}},"xOffset":{"field":"off","type":"quantitative","scale":{"domain":[-1,1],"range":[-2.5,79.5]}}},
"layer":[
{"data":{"name":"i5_b"},"mark":{"type":"bar","width":24,"strokeWidth":2.5},"encoding":{"y":{"field":"m","type":"quantitative","stack":null,"scale":{"domain":[0,1.5],"nice":false},"axis":{"tickCount":50,"labelOverlap":false,"title":["Ppargc1a expression","(Rel fold)"],"titleX":-105,"values":[0,0.5,1,1.5],"format":".1f"}},"fill":{"field":"s","type":"nominal","title":null,"scale":{"domain":["PBS","BDNF"],"range":["#ffffff","#ff0000"]}},"stroke":{"field":"s","type":"nominal","title":null,"scale":{"domain":["PBS","BDNF"],"range":["#000000","#ff0000"]}}}},
{"data":{"name":"i5_b"},"mark":{"type":"rule","strokeWidth":2.5},"encoding":{"y":{"field":"m","type":"quantitative"},"y2":{"field":"hi"},"stroke":{"field":"s","type":"nominal","title":null}}},
{"data":{"name":"i5_d"},"mark":{"type":"point","filled":true,"fill":"#fff","stroke":"#808080","strokeWidth":2.5,"size":100},"encoding":{"y":{"field":"v","type":"quantitative"}}},
{"data":{"values":[{"g":"GSK3787","off":0.45,"y":1.1,"t":"b"}]},"mark":{"type":"text"},"encoding":{"y":{"field":"y","type":"quantitative"},"text":{"field":"t"}}},
{"data":{"values":[{"g":"DMSO","off":0.4,"y":1.5,"t":"*"}]},"mark":{"type":"text","fontSize":14,"dy":3},"encoding":{"y":{"field":"y","type":"quantitative"},"text":{"field":"t"}}}
]},
{"width":1,"height":87,"data":{"values":[]},"mark":"point"},
{"width":209,"height":154,
"encoding":{"x":{"field":"g","type":"nominal","title":null,"scale":{"domain":["DMSO","GSK3787"],"paddingInner":0.3,"paddingOuter":0.1},"axis":{"labelPadding":25,"labelOffset":-14}},"xOffset":{"field":"off","type":"quantitative","scale":{"domain":[-1,1],"range":[-2.5,79.5]}}},
"layer":[
{"data":{"name":"i6_b"},"mark":{"type":"bar","width":24,"strokeWidth":2.5},"encoding":{"y":{"field":"m","type":"quantitative","stack":null,"scale":{"domain":[0,1.5],"nice":false},"axis":{"tickCount":50,"labelOverlap":false,"title":["Ppard expression","(Rel fold)"],"titleX":-105,"values":[0,0.5,1,1.5],"format":".1f"}},"fill":{"field":"s","type":"nominal","title":null,"scale":{"domain":["PBS","BDNF"],"range":["#ffffff","#ff0000"]}},"stroke":{"field":"s","type":"nominal","title":null,"scale":{"domain":["PBS","BDNF"],"range":["#000000","#ff0000"]}}}},
{"data":{"name":"i6_d"},"mark":{"type":"point","filled":true,"fill":"#fff","stroke":"#808080","strokeWidth":2.5,"size":100},"encoding":{"y":{"field":"v","type":"quantitative"}}},
{"data":{"values":[{"g":"GSK3787","off":-0.55,"y":0.915,"t":"c"},{"g":"GSK3787","off":0.42,"y":0.86,"t":"c"}]},"mark":{"type":"text"},"encoding":{"y":{"field":"y","type":"quantitative"},"text":{"field":"t"}}},
{"data":{"values":[{"g":"DMSO","off":0.4,"y":1.575,"t":"*  *  *"},{"g":"GSK3787","off":0.42,"y":0.61,"t":"*  *  *"}]},"mark":{"type":"text","fontSize":14,"dy":3},"encoding":{"y":{"field":"y","type":"quantitative"},"text":{"field":"t"}}}
]}
],"spacing":0,"bounds":"flush","resolve":{"scale":{"fill":"independent","stroke":"independent","xOffset":"independent","opacity":"independent"}}}
],"spacing":0,"bounds":"flush","resolve":{"scale":{"fill":"independent","stroke":"independent","xOffset":"independent","opacity":"independent"}}}
